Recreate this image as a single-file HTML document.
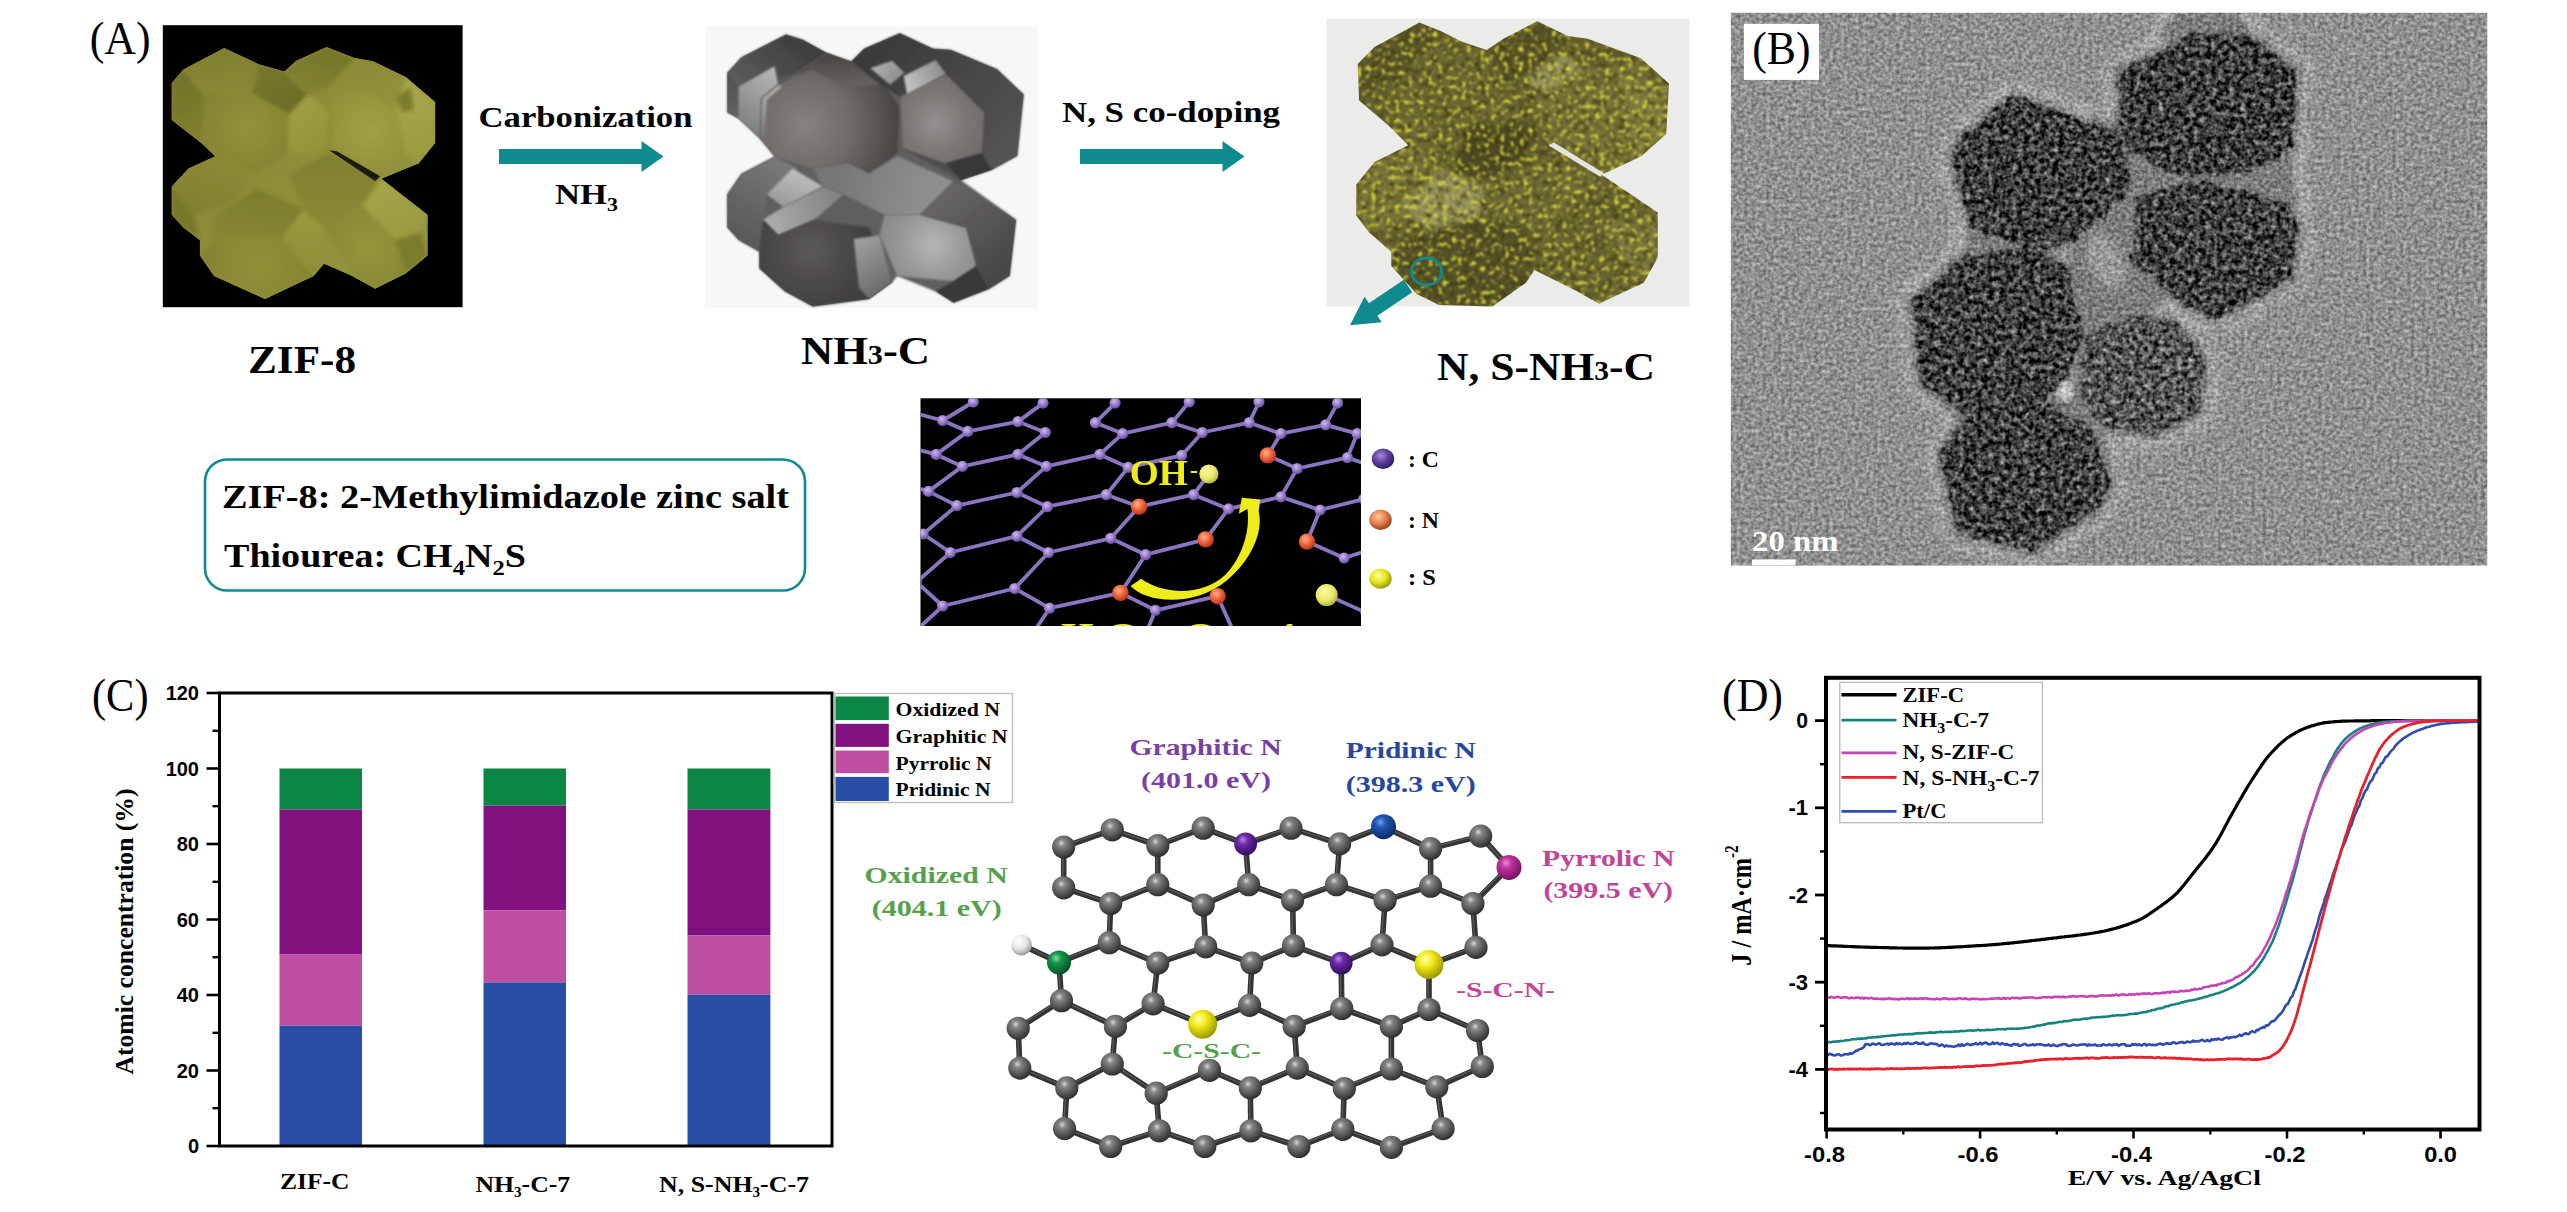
<!DOCTYPE html>
<html lang="en">
<head>
<meta charset="utf-8">
<title>Figure: N, S co-doped ZIF-8 derived carbon</title>
<style>
html,body{margin:0;padding:0;background:#fff;}
body{width:2567px;height:1212px;overflow:hidden;font-family:"Liberation Serif",serif;}
svg{display:block;}
.fs{font-family:"Liberation Serif",serif;}
.fn{font-family:"Liberation Sans",sans-serif;}
</style>
</head>
<body>
<svg width="2567" height="1212" viewBox="0 0 2567 1212">
<rect width="2567" height="1212" fill="#fff"/>
<!-- part_defs -->
<defs>
<!-- sphere gradients -->
<radialGradient id="gGray" cx="0.4" cy="0.33" r="0.72"><stop offset="0" stop-color="#d6d6d6"/><stop offset="0.22" stop-color="#858585"/><stop offset="0.6" stop-color="#565656"/><stop offset="1" stop-color="#262626"/></radialGradient>
<radialGradient id="gPurple" cx="0.38" cy="0.32" r="0.75"><stop offset="0" stop-color="#b58be0"/><stop offset="0.3" stop-color="#6a2aa6"/><stop offset="1" stop-color="#2c0a55"/></radialGradient>
<radialGradient id="gBlue" cx="0.38" cy="0.32" r="0.75"><stop offset="0" stop-color="#6aa0ee"/><stop offset="0.3" stop-color="#1f55ad"/><stop offset="1" stop-color="#0a2560"/></radialGradient>
<radialGradient id="gMag" cx="0.38" cy="0.32" r="0.75"><stop offset="0" stop-color="#f08ad8"/><stop offset="0.3" stop-color="#c030a0"/><stop offset="1" stop-color="#6a1058"/></radialGradient>
<radialGradient id="gGreen" cx="0.38" cy="0.32" r="0.75"><stop offset="0" stop-color="#7fe0a0"/><stop offset="0.3" stop-color="#12954a"/><stop offset="1" stop-color="#064a22"/></radialGradient>
<radialGradient id="gYellow" cx="0.38" cy="0.32" r="0.75"><stop offset="0" stop-color="#ffffb0"/><stop offset="0.35" stop-color="#f2ea18"/><stop offset="1" stop-color="#8f8a00"/></radialGradient>
<radialGradient id="gWhite" cx="0.38" cy="0.32" r="0.75"><stop offset="0" stop-color="#ffffff"/><stop offset="0.5" stop-color="#e6e6e6"/><stop offset="1" stop-color="#8a8a8a"/></radialGradient>
<radialGradient id="gLav" cx="0.4" cy="0.35" r="0.7"><stop offset="0" stop-color="#cdb8f2"/><stop offset="0.5" stop-color="#9a80cc"/><stop offset="1" stop-color="#5d4694"/></radialGradient>
<radialGradient id="gOrange" cx="0.4" cy="0.35" r="0.7"><stop offset="0" stop-color="#ffb48a"/><stop offset="0.5" stop-color="#f0603a"/><stop offset="1" stop-color="#a8301a"/></radialGradient>
<radialGradient id="gPaleY" cx="0.4" cy="0.35" r="0.7"><stop offset="0" stop-color="#fbfba0"/><stop offset="0.6" stop-color="#e8e86a"/><stop offset="1" stop-color="#a8a838"/></radialGradient>
<radialGradient id="gLegC" cx="0.4" cy="0.35" r="0.7"><stop offset="0" stop-color="#a58ad8"/><stop offset="0.5" stop-color="#5c3f9a"/><stop offset="1" stop-color="#2a1858"/></radialGradient>
<radialGradient id="gLegN" cx="0.4" cy="0.35" r="0.7"><stop offset="0" stop-color="#ffc8a0"/><stop offset="0.5" stop-color="#e8804a"/><stop offset="1" stop-color="#8a3a18"/></radialGradient>
<radialGradient id="gLegS" cx="0.4" cy="0.35" r="0.7"><stop offset="0" stop-color="#ffff9a"/><stop offset="0.5" stop-color="#e6e620"/><stop offset="1" stop-color="#88880a"/></radialGradient>
<filter id="blur1" x="-5%" y="-5%" width="110%" height="110%"><feGaussianBlur stdDeviation="1"/></filter>
<filter id="blur2" x="-5%" y="-5%" width="110%" height="110%"><feGaussianBlur stdDeviation="2"/></filter>
<filter id="blur4" x="-10%" y="-10%" width="120%" height="120%"><feGaussianBlur stdDeviation="4"/></filter>
<filter id="blur8" x="-20%" y="-20%" width="140%" height="140%"><feGaussianBlur stdDeviation="8"/></filter>
<filter id="soft" x="-2%" y="-2%" width="104%" height="104%"><feGaussianBlur stdDeviation="0.6"/></filter>
</defs>
<!-- part_a -->
<g id="panelA">
<text class="fs" x="89.7" y="54" font-size="46.5" textLength="61" lengthAdjust="spacingAndGlyphs">(A)</text>
<g id="zif8">
<rect x="162.8" y="25.2" width="299.8" height="282" fill="#000"/>
<defs><clipPath id="clipZ"><polygon points="171.7,82.9 183.3,69.4 224.2,47.9 258.7,64.2 284.3,71.4 296.3,60.7 326.5,47.1 354.7,58.1 373.1,61.2 405.8,77.0 435.2,102.1 435.2,143.0 418.6,163.5 381.5,178.8 427.6,214.7 427.6,255.6 405.8,273.5 375.1,288.8 352.1,276.1 324.0,263.8 313.7,276.1 265.1,299.1 214.0,276.1 199.9,255.6 199.9,240.2 183.3,227.4 171.7,214.7 171.7,186.5 188.4,168.6 215.2,156.3 201.2,143.0 171.7,120.0"/></clipPath></defs>
<polygon points="171.7,82.9 183.3,69.4 224.2,47.9 258.7,64.2 284.3,71.4 296.3,60.7 326.5,47.1 354.7,58.1 373.1,61.2 405.8,77.0 435.2,102.1 435.2,143.0 418.6,163.5 381.5,178.8 427.6,214.7 427.6,255.6 405.8,273.5 375.1,288.8 352.1,276.1 324.0,263.8 313.7,276.1 265.1,299.1 214.0,276.1 199.9,255.6 199.9,240.2 183.3,227.4 171.7,214.7 171.7,186.5 188.4,168.6 215.2,156.3 201.2,143.0 171.7,120.0" fill="#7f7f31" filter="url(#soft)"/>
<defs><linearGradient id="zg0" gradientUnits="userSpaceOnUse" x1="175.6" y1="61.2" x2="431.4" y2="265.8"><stop offset="0.00" stop-color="#838333"/><stop offset="0.50" stop-color="#8e8e3a"/><stop offset="1.00" stop-color="#96963f"/></linearGradient><linearGradient id="zg1" gradientUnits="userSpaceOnUse" x1="173.0" y1="81.6" x2="203.7" y2="137.9"><stop offset="0.00" stop-color="#74742b"/><stop offset="1.00" stop-color="#80802f"/></linearGradient><linearGradient id="zg2" gradientUnits="userSpaceOnUse" x1="224.2" y1="48.4" x2="226.7" y2="94.4"><stop offset="0.00" stop-color="#7e7e2f"/><stop offset="1.00" stop-color="#8a8a36"/></linearGradient><linearGradient id="zg3" gradientUnits="userSpaceOnUse" x1="260.0" y1="66.3" x2="293.3" y2="112.3"><stop offset="0.00" stop-color="#77772c"/><stop offset="1.00" stop-color="#6c6c27"/></linearGradient><radialGradient id="zg4" gradientUnits="userSpaceOnUse" cx="247.2" cy="127.7" r="66.5"><stop offset="0.00" stop-color="#92923b"/><stop offset="0.50" stop-color="#888835"/><stop offset="1.00" stop-color="#7f7f30"/></radialGradient><linearGradient id="zg5" gradientUnits="userSpaceOnUse" x1="293.3" y1="112.3" x2="326.5" y2="153.3"><stop offset="0.00" stop-color="#9d9d44"/><stop offset="1.00" stop-color="#919139"/></linearGradient><linearGradient id="zg6" gradientUnits="userSpaceOnUse" x1="326.5" y1="48.4" x2="313.7" y2="91.9"><stop offset="0.00" stop-color="#75752b"/><stop offset="1.00" stop-color="#828231"/></linearGradient><linearGradient id="zg7" gradientUnits="userSpaceOnUse" x1="359.8" y1="61.2" x2="395.6" y2="107.2"><stop offset="0.00" stop-color="#8a8a36"/><stop offset="1.00" stop-color="#93933c"/></linearGradient><radialGradient id="zg8" gradientUnits="userSpaceOnUse" cx="370.0" cy="130.2" r="58.8"><stop offset="0.00" stop-color="#a0a046"/><stop offset="0.50" stop-color="#96963e"/><stop offset="1.00" stop-color="#8c8c38"/></radialGradient><linearGradient id="zg9" gradientUnits="userSpaceOnUse" x1="405.8" y1="81.6" x2="426.3" y2="158.4"><stop offset="0.00" stop-color="#a8a84b"/><stop offset="1.00" stop-color="#9a9a41"/></linearGradient><linearGradient id="zg11" gradientUnits="userSpaceOnUse" x1="214.0" y1="158.4" x2="193.5" y2="214.7"><stop offset="0.00" stop-color="#8a8a36"/><stop offset="1.00" stop-color="#808030"/></linearGradient><linearGradient id="zg13" gradientUnits="userSpaceOnUse" x1="257.4" y1="189.1" x2="247.2" y2="240.2"><stop offset="0.00" stop-color="#7c7c2e"/><stop offset="1.00" stop-color="#868633"/></linearGradient><radialGradient id="zg14" gradientUnits="userSpaceOnUse" cx="257.4" cy="265.8" r="58.8"><stop offset="0.00" stop-color="#909039"/><stop offset="0.50" stop-color="#8a8a36"/><stop offset="1.00" stop-color="#828231"/></radialGradient><linearGradient id="zg15" gradientUnits="userSpaceOnUse" x1="303.5" y1="212.1" x2="316.3" y2="273.5"><stop offset="0.00" stop-color="#98983f"/><stop offset="1.00" stop-color="#8e8e39"/></linearGradient><linearGradient id="zg16" gradientUnits="userSpaceOnUse" x1="329.1" y1="155.8" x2="329.1" y2="227.4"><stop offset="0.00" stop-color="#808030"/><stop offset="1.00" stop-color="#8a8a36"/></linearGradient><linearGradient id="zg17" gradientUnits="userSpaceOnUse" x1="380.2" y1="181.4" x2="405.8" y2="237.7"><stop offset="0.00" stop-color="#a5a549"/><stop offset="1.00" stop-color="#9a9a41"/></linearGradient><radialGradient id="zg18" gradientUnits="userSpaceOnUse" cx="367.4" cy="247.9" r="48.6"><stop offset="0.00" stop-color="#96963e"/><stop offset="0.50" stop-color="#8e8e39"/><stop offset="1.00" stop-color="#868634"/></radialGradient></defs>
<g clip-path="url(#clipZ)">
<polygon points="171.7,82.9 183.3,69.4 224.2,47.9 258.7,64.2 284.3,71.4 296.3,60.7 326.5,47.1 354.7,58.1 373.1,61.2 405.8,77.0 435.2,102.1 435.2,143.0 418.6,163.5 381.5,178.8 427.6,214.7 427.6,255.6 405.8,273.5 375.1,288.8 352.1,276.1 324.0,263.8 313.7,276.1 265.1,299.1 214.0,276.1 199.9,255.6 199.9,240.2 183.3,227.4 171.7,214.7 171.7,186.5 188.4,168.6 215.2,156.3 201.2,143.0 171.7,120.0" fill="url(#zg0)"/>
<polygon points="171.7,82.9 183.3,69.4 205.0,94.4 203.7,143.0 171.7,120.0" fill="url(#zg1)" filter="url(#blur2)"/>
<polygon points="183.3,69.4 224.2,47.9 258.7,64.2 252.3,94.4 205.0,94.4" fill="url(#zg2)" filter="url(#blur2)"/>
<polygon points="252.3,94.4 258.7,64.2 284.3,71.4 308.6,94.4 289.4,114.9" fill="url(#zg3)" filter="url(#blur2)"/>
<polygon points="205.0,94.4 252.3,94.4 289.4,114.9 288.1,153.3 257.4,173.7 215.2,156.3 201.2,143.0" fill="url(#zg4)" filter="url(#blur2)"/>
<polygon points="289.4,114.9 308.6,94.4 329.1,112.3 326.5,153.3 288.1,153.3" fill="url(#zg5)" filter="url(#blur2)"/>
<polygon points="284.3,71.4 296.3,60.7 326.5,47.1 354.7,58.1 329.1,86.7 308.6,94.4" fill="url(#zg6)" filter="url(#blur2)"/>
<polygon points="354.7,58.1 373.1,61.2 405.8,77.0 395.6,109.8 359.8,86.7" fill="url(#zg7)" filter="url(#blur2)"/>
<polygon points="329.1,86.7 359.8,86.7 395.6,109.8 405.8,153.3 380.2,173.7 334.2,149.4 329.1,112.3" fill="url(#zg8)" filter="url(#blur2)"/>
<polygon points="395.6,109.8 405.8,77.0 435.2,102.1 435.2,143.0 418.6,163.5 405.8,153.3" fill="url(#zg9)" filter="url(#blur2)"/>
<polygon points="395.6,97.0 410.9,86.7 413.5,109.8 402.0,112.3" fill="#7d7d2f" filter="url(#blur2)"/>
<polygon points="171.7,186.5 188.4,168.6 215.2,156.3 257.4,173.7 226.7,204.4 193.5,214.7" fill="url(#zg11)" filter="url(#blur2)"/>
<polygon points="171.7,186.5 193.5,214.7 199.9,240.2 183.3,227.4 171.7,214.7" fill="#78782c" filter="url(#blur2)"/>
<polygon points="215.2,214.7 257.4,189.1 303.5,209.5 283.0,237.7 214.0,240.2" fill="url(#zg13)" filter="url(#blur2)"/>
<polygon points="214.0,240.2 283.0,237.7 313.7,276.1 265.1,299.1 214.0,276.1 199.9,255.6" fill="url(#zg14)" filter="url(#blur2)"/>
<polygon points="283.0,237.7 303.5,209.5 326.5,230.0 324.0,263.8 313.7,276.1" fill="url(#zg15)" filter="url(#blur2)"/>
<polygon points="329.1,153.3 381.5,178.8 362.3,207.0 326.5,230.0 303.5,209.5 288.1,173.7" fill="url(#zg16)" filter="url(#blur2)"/>
<polygon points="381.5,178.8 427.6,214.7 421.2,232.6 395.6,240.2 362.3,207.0" fill="url(#zg17)" filter="url(#blur2)"/>
<polygon points="362.3,207.0 395.6,240.2 405.8,273.5 375.1,288.8 352.1,276.1 326.5,230.0" fill="url(#zg18)" filter="url(#blur2)"/>
<polygon points="395.6,240.2 421.2,232.6 427.6,255.6 405.8,273.5" fill="#7b7b2e" filter="url(#blur2)"/>
<polygon points="329.1,150.2 336.7,151.2 380.2,176.3 375.1,180.9" fill="#1c1c08" filter="url(#soft)"/>
</g></g>
<g id="nh3c">
<rect x="705" y="26.6" width="333" height="281.6" fill="#f7f7f7"/>
<defs><clipPath id="clipG"><polygon points="727.1,72.7 741.2,57.3 786.0,34.3 802.6,39.4 825.6,52.2 851.2,61.2 864.0,48.4 899.8,33.0 933.1,48.4 951.0,49.7 997.1,68.9 1023.9,94.4 1017.5,155.9 991.9,169.9 961.2,180.2 1016.3,219.8 1009.9,276.1 989.4,288.9 953.6,303.0 935.6,291.5 897.3,276.1 892.1,282.5 869.1,299.2 812.8,306.8 784.7,291.5 759.1,268.4 759.1,251.8 738.6,240.3 727.1,227.5 727.1,194.2 741.2,173.8 774.4,156.4 759.1,137.9 738.6,118.8 727.1,112.4"/></clipPath></defs>
<polygon points="727.1,72.7 741.2,57.3 786.0,34.3 802.6,39.4 825.6,52.2 851.2,61.2 864.0,48.4 899.8,33.0 933.1,48.4 951.0,49.7 997.1,68.9 1023.9,94.4 1017.5,155.9 991.9,169.9 961.2,180.2 1016.3,219.8 1009.9,276.1 989.4,288.9 953.6,303.0 935.6,291.5 897.3,276.1 892.1,282.5 869.1,299.2 812.8,306.8 784.7,291.5 759.1,268.4 759.1,251.8 738.6,240.3 727.1,227.5 727.1,194.2 741.2,173.8 774.4,156.4 759.1,137.9 738.6,118.8 727.1,112.4" fill="#5e5e5e" filter="url(#blur1)"/>
<defs><linearGradient id="gg0" gradientUnits="userSpaceOnUse" x1="786.0" y1="34.3" x2="741.2" y2="86.8"><stop offset="0.00" stop-color="#3f3f3f"/><stop offset="1.00" stop-color="#5c5c5c"/></linearGradient><linearGradient id="gg1" gradientUnits="userSpaceOnUse" x1="728.4" y1="74.0" x2="738.6" y2="120.0"><stop offset="0.00" stop-color="#4f4f4f"/><stop offset="1.00" stop-color="#646464"/></linearGradient><linearGradient id="gg2" gradientUnits="userSpaceOnUse" x1="774.4" y1="68.9" x2="741.2" y2="125.1"><stop offset="0.00" stop-color="#b6b6b6"/><stop offset="1.00" stop-color="#808080"/></linearGradient><linearGradient id="gg3" gradientUnits="userSpaceOnUse" x1="828.2" y1="53.5" x2="830.7" y2="86.8"><stop offset="0.00" stop-color="#474341"/><stop offset="1.00" stop-color="#68635f"/></linearGradient><radialGradient id="gg4" gradientUnits="userSpaceOnUse" cx="805.1" cy="125.1" r="92.1"><stop offset="0.00" stop-color="#88827f"/><stop offset="0.50" stop-color="#706b68"/><stop offset="1.00" stop-color="#4a4644"/></radialGradient><linearGradient id="gg5" gradientUnits="userSpaceOnUse" x1="764.2" y1="99.6" x2="766.8" y2="137.9"><stop offset="0.00" stop-color="#a8a6a4"/><stop offset="1.00" stop-color="#77736f"/></linearGradient><linearGradient id="gg6" gradientUnits="userSpaceOnUse" x1="899.8" y1="33.0" x2="1009.9" y2="143.1"><stop offset="0.00" stop-color="#3b3b3b"/><stop offset="1.00" stop-color="#545252"/></linearGradient><linearGradient id="gg7" gradientUnits="userSpaceOnUse" x1="874.2" y1="66.3" x2="899.8" y2="81.6"><stop offset="0.00" stop-color="#b0b0b0"/><stop offset="1.00" stop-color="#8c8c8c"/></linearGradient><linearGradient id="gg8" gradientUnits="userSpaceOnUse" x1="907.5" y1="89.3" x2="943.3" y2="66.3"><stop offset="0.00" stop-color="#c4c4c4"/><stop offset="1.00" stop-color="#8c8c8c"/></linearGradient><radialGradient id="gg9" gradientUnits="userSpaceOnUse" cx="935.6" cy="122.6" r="61.4"><stop offset="0.00" stop-color="#959090"/><stop offset="0.50" stop-color="#7c7774"/><stop offset="1.00" stop-color="#6c6764"/></radialGradient><linearGradient id="gg11" gradientUnits="userSpaceOnUse" x1="774.4" y1="158.4" x2="728.4" y2="227.5"><stop offset="0.00" stop-color="#787878"/><stop offset="1.00" stop-color="#5a5a5a"/></linearGradient><linearGradient id="gg12" gradientUnits="userSpaceOnUse" x1="792.4" y1="171.2" x2="779.6" y2="207.0"><stop offset="0.00" stop-color="#bcbcbc"/><stop offset="1.00" stop-color="#989898"/></linearGradient><linearGradient id="gg13" gradientUnits="userSpaceOnUse" x1="766.8" y1="227.5" x2="833.3" y2="194.2"><stop offset="0.00" stop-color="#adadad"/><stop offset="1.00" stop-color="#858585"/></linearGradient><linearGradient id="gg14" gradientUnits="userSpaceOnUse" x1="833.3" y1="176.3" x2="920.3" y2="204.5"><stop offset="0.00" stop-color="#767676"/><stop offset="1.00" stop-color="#8e8e8e"/></linearGradient><radialGradient id="gg15" gradientUnits="userSpaceOnUse" cx="810.3" cy="250.5" r="81.9"><stop offset="0.00" stop-color="#5c5958"/><stop offset="0.50" stop-color="#4a4746"/><stop offset="1.00" stop-color="#3a3837"/></radialGradient><linearGradient id="gg16" gradientUnits="userSpaceOnUse" x1="856.3" y1="240.3" x2="887.0" y2="286.4"><stop offset="0.00" stop-color="#a0a0a0"/><stop offset="1.00" stop-color="#6c6c6c"/></linearGradient><radialGradient id="gg17" gradientUnits="userSpaceOnUse" cx="933.1" cy="245.4" r="58.9"><stop offset="0.00" stop-color="#b6b6b6"/><stop offset="0.50" stop-color="#9a9a9a"/><stop offset="1.00" stop-color="#868686"/></radialGradient><linearGradient id="gg18" gradientUnits="userSpaceOnUse" x1="945.9" y1="189.1" x2="1009.9" y2="265.9"><stop offset="0.00" stop-color="#686564"/><stop offset="1.00" stop-color="#484645"/></linearGradient></defs>
<g clip-path="url(#clipG)">
<polygon points="727.1,72.7 741.2,57.3 786.0,34.3 802.6,39.4 828.2,52.2 778.3,84.2 738.6,86.8" fill="url(#gg0)" filter="url(#blur1)"/>
<polygon points="727.1,72.7 738.6,86.8 738.6,120.0 727.1,112.4" fill="url(#gg1)" filter="url(#blur1)"/>
<polygon points="738.6,86.8 774.4,66.3 778.3,84.2 761.6,98.3 760.4,137.9 738.6,120.0" fill="url(#gg2)" filter="url(#blur1)"/>
<polygon points="778.3,84.2 828.2,52.2 851.2,61.2 884.5,84.2 843.5,86.8 812.8,70.1 779.6,77.8" fill="url(#gg3)" filter="url(#blur1)"/>
<polygon points="761.6,98.3 778.3,84.2 812.8,70.1 843.5,86.8 884.5,84.2 899.8,107.2 897.3,153.3 869.1,173.8 848.6,163.5 812.8,168.6 774.4,156.4 759.1,137.9" fill="url(#gg4)" filter="url(#blur1)"/>
<polygon points="762.4,98.3 778.3,84.7 782.1,86.8 766.8,100.1 764.7,137.9 760.6,136.9" fill="url(#gg5)" filter="url(#blur1)"/>
<polygon points="851.2,61.2 864.0,48.4 899.8,33.0 933.1,48.4 951.0,49.7 997.1,68.9 1023.9,94.4 1017.5,155.9 991.9,169.9 961.2,180.2 902.4,148.2 899.8,97.0 879.4,84.2" fill="url(#gg6)" filter="url(#blur1)"/>
<polygon points="870.4,68.3 892.1,60.7 904.4,72.7 890.1,84.7" fill="url(#gg7)" filter="url(#blur1)"/>
<polygon points="903.7,76.0 935.6,59.9 945.9,74.0 907.5,96.5" fill="url(#gg8)" filter="url(#blur1)"/>
<polygon points="899.8,97.0 945.9,74.0 984.3,112.4 981.7,153.3 945.9,163.5 902.4,148.2" fill="url(#gg9)" filter="url(#blur1)"/>
<polygon points="945.9,163.5 981.7,153.3 991.9,169.9 961.2,180.2" fill="#373737" filter="url(#blur1)"/>
<polygon points="727.1,194.2 741.2,173.8 774.4,156.4 797.5,168.6 766.8,194.2 762.9,219.8 759.1,251.8 738.6,240.3 727.1,227.5" fill="url(#gg11)" filter="url(#blur1)"/>
<polygon points="766.8,194.2 792.4,168.6 823.1,186.6 783.4,207.0" fill="url(#gg12)" filter="url(#blur1)"/>
<polygon points="762.9,219.8 783.4,207.0 823.1,186.6 843.5,194.2 814.1,219.8 778.3,235.2" fill="url(#gg13)" filter="url(#blur1)"/>
<polygon points="812.8,168.6 848.6,163.5 869.1,173.8 897.3,155.9 953.6,181.4 920.3,214.7 884.5,214.7 843.5,194.2 823.1,186.6" fill="url(#gg14)" filter="url(#blur1)"/>
<polygon points="759.1,251.8 762.9,219.8 778.3,235.2 814.1,219.8 869.1,227.5 892.1,282.5 869.1,299.2 812.8,306.8 784.7,291.5 759.1,268.4" fill="url(#gg15)" filter="url(#blur1)"/>
<polygon points="853.8,239.0 879.4,235.2 892.1,282.5 869.1,299.2 858.9,287.6" fill="url(#gg16)" filter="url(#blur1)"/>
<polygon points="884.5,214.7 920.3,214.7 966.4,227.5 976.6,265.9 953.6,281.2 897.3,276.1 879.4,235.2" fill="url(#gg17)" filter="url(#blur1)"/>
<polygon points="953.6,181.4 1016.3,219.8 1009.9,276.1 989.4,288.9 976.6,265.9 966.4,227.5 920.3,214.7" fill="url(#gg18)" filter="url(#blur1)"/>
<polygon points="953.6,281.2 976.6,265.9 989.4,288.9 953.6,303.0 935.6,291.5" fill="#393939" filter="url(#blur1)"/>
</g></g>
<g id="nsc">
<rect x="1326.8" y="18.5" width="362.4" height="288" fill="#ebecea"/>
<defs><clipPath id="clipY"><polygon points="1357.7,63.9 1374.5,47.1 1419.4,22.4 1441.8,31.6 1461.5,41.5 1486.7,49.9 1503.5,38.7 1537.2,21.3 1568.1,35.9 1587.7,38.7 1641.0,58.3 1669.0,83.5 1666.2,134.0 1641.0,156.5 1601.7,174.7 1657.8,212.6 1657.8,257.5 1643.8,282.7 1598.9,303.7 1576.5,291.1 1534.4,270.1 1526.0,282.7 1492.3,306.5 1439.0,305.1 1416.6,293.9 1391.3,265.9 1391.3,251.8 1368.9,232.2 1356.3,215.4 1356.3,184.5 1374.5,162.1 1408.2,145.3 1388.5,125.6 1359.1,100.4"/></clipPath>
<filter id="speck" x="0" y="0" width="100%" height="100%" color-interpolation-filters="sRGB">
<feTurbulence type="fractalNoise" baseFrequency="0.21" numOctaves="2" seed="11" result="n"/>
<feColorMatrix in="n" type="matrix" values="0 0 0 0 0.83  0 0 0 0 0.83  0 0 0 0 0.24  6.5 0 0 0 -3.65" result="y0"/>
<feGaussianBlur in="y0" stdDeviation="0.8" result="y"/>
<feTurbulence type="fractalNoise" baseFrequency="0.16" numOctaves="2" seed="4" result="n2"/>
<feColorMatrix in="n2" type="matrix" values="0 0 0 0 0.22  0 0 0 0 0.21  0 0 0 0 0.07  0 2.2 0 0 -0.95" result="d0"/>
<feGaussianBlur in="d0" stdDeviation="0.8" result="d"/>
<feGaussianBlur in="SourceGraphic" stdDeviation="2.5" result="sg"/>
<feMerge><feMergeNode in="sg"/><feMergeNode in="d"/><feMergeNode in="y"/></feMerge>
</filter></defs>
<g clip-path="url(#clipY)">
<g filter="url(#speck)">
<rect x="1340" y="10" width="350" height="310" fill="#686331"/>
<polygon points="1357.7,63.9 1374.5,47.1 1419.4,22.4 1441.8,31.6 1402.6,75.1 1359.1,100.4" fill="#5a562a"/>
<polygon points="1402.6,75.1 1441.8,31.6 1486.7,49.9 1540.0,122.8 1506.4,173.3 1455.9,178.9 1408.2,145.3 1388.5,125.6" fill="#6d6934"/>
<polygon points="1467.1,125.6 1540.0,122.8 1523.2,162.1 1489.5,178.9 1455.9,173.3" fill="#4e4a24"/>
<polygon points="1486.7,49.9 1503.5,38.7 1537.2,21.3 1568.1,35.9 1534.4,75.1 1506.4,83.5" fill="#59552a"/>
<polygon points="1523.2,77.9 1562.5,52.7 1584.9,69.5 1548.4,97.6" fill="#9a975c"/>
<polygon points="1534.4,97.6 1584.9,69.5 1641.0,58.3 1669.0,83.5 1666.2,134.0 1641.0,156.5 1601.7,174.7 1548.4,145.3" fill="#78733a"/>
<polygon points="1618.6,77.9 1669.0,83.5 1666.2,134.0 1641.0,156.5 1624.2,122.8" fill="#858040"/>
<polygon points="1356.3,184.5 1374.5,162.1 1408.2,145.3 1455.9,178.9 1422.2,218.2 1368.9,232.2 1356.3,215.4" fill="#7a763c"/>
<polygon points="1402.6,201.4 1444.6,170.5 1489.5,187.3 1478.3,221.0 1427.8,232.2" fill="#9c9960"/>
<polygon points="1391.3,251.8 1427.8,229.4 1478.3,218.2 1528.8,229.4 1534.4,270.1 1526.0,282.7 1492.3,306.5 1439.0,305.1 1416.6,293.9 1391.3,265.9" fill="#56522a"/>
<polygon points="1483.9,184.5 1540.0,162.1 1601.7,174.7 1562.5,218.2 1528.8,229.4 1478.3,218.2" fill="#716d38"/>
<polygon points="1562.5,218.2 1601.7,174.7 1657.8,212.6 1657.8,257.5 1643.8,282.7 1598.9,303.7 1576.5,291.1 1534.4,270.1 1528.8,229.4" fill="#6a6633"/>
<polygon points="1601.7,223.8 1657.8,212.6 1657.8,257.5 1643.8,282.7 1618.6,257.5" fill="#7c7840"/>
</g></g>
<polygon points="1548.4,145.3 1554.0,142.4 1603.1,172.7 1600.3,176.7" fill="#e3e4dc" filter="url(#soft)"/>
<ellipse cx="1426.6" cy="271.5" rx="15" ry="13.5" fill="none" stroke="#0f8a8f" stroke-width="2.8"/>
</g>
<polygon points="499,149.0 641.5,149.0 641.5,141.0 663.5,156.5 641.5,172.0 641.5,164.0 499,164.0" fill="#0f8a8f"/>
<polygon points="1080,149.0 1222.5,149.0 1222.5,141.0 1244.5,156.5 1222.5,172.0 1222.5,164.0 1080,164.0" fill="#0f8a8f"/>
<g transform="translate(1408,286) rotate(146)"><polygon points="0,-7.5 42,-7.5 42,-15.5 70,0 42,15.5 42,7.5 0,7.5" fill="#0f8a8f"/></g>
<text class="fs" x="478.5" y="127" font-size="30" font-weight="bold" textLength="214" lengthAdjust="spacingAndGlyphs">Carbonization</text>
<text class="fs" x="555" y="204" font-size="30" font-weight="bold" textLength="63" lengthAdjust="spacingAndGlyphs">NH<tspan font-size="19" dy="7">3</tspan></text>
<text class="fs" x="1062" y="122" font-size="30" font-weight="bold" textLength="218" lengthAdjust="spacingAndGlyphs">N, S co-doping</text>
<text class="fs" x="248" y="373" font-size="40" font-weight="bold" textLength="108" lengthAdjust="spacingAndGlyphs">ZIF-8</text>
<text class="fs" x="801" y="364" font-size="40" font-weight="bold" textLength="129" lengthAdjust="spacingAndGlyphs">NH<tspan font-size="27">3</tspan>-C</text>
<text class="fs" x="1437" y="380" font-size="40" font-weight="bold" textLength="218" lengthAdjust="spacingAndGlyphs">N, S-NH<tspan font-size="27">3</tspan>-C</text>
<rect x="205" y="459.5" width="600" height="131" rx="22" ry="22" fill="#fff" stroke="#0f8a8f" stroke-width="2.6"/>
<text class="fs" x="222" y="508" font-size="34" font-weight="bold" textLength="567" lengthAdjust="spacingAndGlyphs">ZIF-8: 2-Methylimidazole zinc salt</text>
<text class="fs" x="224" y="567" font-size="34" font-weight="bold" textLength="302" lengthAdjust="spacingAndGlyphs">Thiourea: CH<tspan font-size="22" dy="8">4</tspan><tspan dy="-8">N</tspan><tspan font-size="22" dy="8">2</tspan><tspan dy="-8">S</tspan></text>
</g>
<!-- part_a2 -->
<g id="graphene">
<rect x="920.5" y="398.3" width="440.5" height="227.7" fill="#000"/>
<clipPath id="clipGr"><rect x="920.5" y="398.3" width="440.5" height="227.7"/></clipPath>
<g clip-path="url(#clipGr)"><g filter="url(#soft)">
<g stroke="#8a76c0" stroke-width="3.8" stroke-linecap="round">
<line x1="973.3" y1="402.0" x2="942.7" y2="420.5"/>
<line x1="1043.1" y1="403.1" x2="1018.0" y2="421.6"/>
<line x1="1115.1" y1="403.1" x2="1095.4" y2="422.7"/>
<line x1="1189.2" y1="402.0" x2="1171.8" y2="422.7"/>
<line x1="1259.0" y1="402.0" x2="1249.2" y2="422.7"/>
<line x1="1337.6" y1="403.1" x2="1325.6" y2="424.9"/>
<line x1="942.7" y1="420.5" x2="967.8" y2="431.4"/>
<line x1="967.8" y1="431.4" x2="1018.0" y2="421.6"/>
<line x1="1018.0" y1="421.6" x2="1045.3" y2="432.5"/>
<line x1="1095.4" y1="422.7" x2="1122.7" y2="433.6"/>
<line x1="1122.7" y1="433.6" x2="1171.8" y2="422.7"/>
<line x1="1171.8" y1="422.7" x2="1202.3" y2="432.5"/>
<line x1="1202.3" y1="432.5" x2="1249.2" y2="422.7"/>
<line x1="1249.2" y1="422.7" x2="1280.9" y2="433.6"/>
<line x1="1280.9" y1="433.6" x2="1325.6" y2="424.9"/>
<line x1="1325.6" y1="424.9" x2="1357.2" y2="433.6"/>
<line x1="967.8" y1="431.4" x2="936.2" y2="454.4"/>
<line x1="1045.3" y1="432.5" x2="1018.0" y2="454.4"/>
<line x1="1122.7" y1="433.6" x2="1099.8" y2="454.4"/>
<line x1="1202.3" y1="432.5" x2="1181.6" y2="455.4"/>
<line x1="1280.9" y1="433.6" x2="1267.8" y2="455.4"/>
<line x1="1357.2" y1="433.6" x2="1347.4" y2="457.6"/>
<line x1="936.2" y1="454.4" x2="962.4" y2="466.4"/>
<line x1="962.4" y1="466.4" x2="1018.0" y2="454.4"/>
<line x1="1018.0" y1="454.4" x2="1046.3" y2="466.4"/>
<line x1="1046.3" y1="466.4" x2="1099.8" y2="454.4"/>
<line x1="1099.8" y1="454.4" x2="1128.2" y2="467.4"/>
<line x1="1128.2" y1="467.4" x2="1181.6" y2="455.4"/>
<line x1="1267.8" y1="455.4" x2="1297.2" y2="468.5"/>
<line x1="1297.2" y1="468.5" x2="1347.4" y2="457.6"/>
<line x1="1347.4" y1="457.6" x2="1379.0" y2="468.5"/>
<line x1="962.4" y1="466.4" x2="928.5" y2="491.4"/>
<line x1="1046.3" y1="466.4" x2="1016.9" y2="492.5"/>
<line x1="1128.2" y1="467.4" x2="1106.3" y2="494.7"/>
<line x1="1297.2" y1="468.5" x2="1280.9" y2="496.9"/>
<line x1="1379.0" y1="468.5" x2="1363.8" y2="499.1"/>
<line x1="928.5" y1="491.4" x2="956.9" y2="505.6"/>
<line x1="956.9" y1="505.6" x2="1016.9" y2="492.5"/>
<line x1="1016.9" y1="492.5" x2="1047.4" y2="506.7"/>
<line x1="1047.4" y1="506.7" x2="1106.3" y2="494.7"/>
<line x1="1106.3" y1="494.7" x2="1139.1" y2="506.7"/>
<line x1="1139.1" y1="506.7" x2="1193.6" y2="494.7"/>
<line x1="1193.6" y1="494.7" x2="1228.5" y2="508.9"/>
<line x1="1228.5" y1="508.9" x2="1280.9" y2="496.9"/>
<line x1="1280.9" y1="496.9" x2="1320.1" y2="510.0"/>
<line x1="1320.1" y1="510.0" x2="1363.8" y2="499.1"/>
<line x1="956.9" y1="505.6" x2="923.1" y2="534.0"/>
<line x1="1047.4" y1="506.7" x2="1016.9" y2="536.2"/>
<line x1="1139.1" y1="506.7" x2="1110.7" y2="538.3"/>
<line x1="1228.5" y1="508.9" x2="1205.6" y2="539.4"/>
<line x1="1320.1" y1="510.0" x2="1307.0" y2="541.6"/>
<line x1="923.1" y1="534.0" x2="950.4" y2="552.5"/>
<line x1="950.4" y1="552.5" x2="1016.9" y2="536.2"/>
<line x1="1016.9" y1="536.2" x2="1048.5" y2="552.5"/>
<line x1="1048.5" y1="552.5" x2="1110.7" y2="538.3"/>
<line x1="1110.7" y1="538.3" x2="1145.6" y2="554.7"/>
<line x1="1145.6" y1="554.7" x2="1205.6" y2="539.4"/>
<line x1="1307.0" y1="541.6" x2="1344.1" y2="558.0"/>
<line x1="1344.1" y1="558.0" x2="1368.1" y2="550.3"/>
<line x1="950.4" y1="552.5" x2="916.5" y2="582.0"/>
<line x1="1048.5" y1="552.5" x2="1014.7" y2="588.5"/>
<line x1="1145.6" y1="554.7" x2="1120.5" y2="592.9"/>
<line x1="916.5" y1="582.0" x2="942.7" y2="606.0"/>
<line x1="942.7" y1="606.0" x2="1014.7" y2="588.5"/>
<line x1="1014.7" y1="588.5" x2="1049.6" y2="608.2"/>
<line x1="1049.6" y1="608.2" x2="1120.5" y2="592.9"/>
<line x1="1120.5" y1="592.9" x2="1155.4" y2="610.3"/>
<line x1="1155.4" y1="610.3" x2="1217.6" y2="596.2"/>
<line x1="1326.7" y1="595.1" x2="1365.9" y2="612.5"/>
<line x1="942.7" y1="606.0" x2="914.4" y2="632.1"/>
<line x1="1049.6" y1="608.2" x2="1032.2" y2="634.3"/>
<line x1="1155.4" y1="610.3" x2="1145.6" y2="634.3"/>
<line x1="1217.6" y1="596.2" x2="1231.8" y2="627.8"/>
<line x1="910.0" y1="411.8" x2="942.7" y2="420.5"/>
<line x1="910.0" y1="447.8" x2="936.2" y2="454.4"/>
<line x1="910.0" y1="486.0" x2="928.5" y2="491.4"/>
<line x1="910.0" y1="529.6" x2="923.1" y2="534.0"/>
<line x1="910.0" y1="577.6" x2="916.5" y2="582.0"/>
<line x1="1357.2" y1="433.6" x2="1368.1" y2="429.3"/>
<line x1="1379.0" y1="468.5" x2="1368.1" y2="464.2"/>
<line x1="1208.9" y1="474.0" x2="1193.6" y2="494.7"/>
</g>
<circle cx="973.3" cy="402.0" r="5.6" fill="url(#gLav)"/>
<circle cx="1043.1" cy="403.1" r="5.6" fill="url(#gLav)"/>
<circle cx="1115.1" cy="403.1" r="5.6" fill="url(#gLav)"/>
<circle cx="1189.2" cy="402.0" r="5.6" fill="url(#gLav)"/>
<circle cx="1259.0" cy="402.0" r="5.6" fill="url(#gLav)"/>
<circle cx="1337.6" cy="403.1" r="5.6" fill="url(#gLav)"/>
<circle cx="942.7" cy="420.5" r="5.6" fill="url(#gLav)"/>
<circle cx="967.8" cy="431.4" r="5.6" fill="url(#gLav)"/>
<circle cx="1018.0" cy="421.6" r="5.6" fill="url(#gLav)"/>
<circle cx="1045.3" cy="432.5" r="5.6" fill="url(#gLav)"/>
<circle cx="1095.4" cy="422.7" r="5.6" fill="url(#gLav)"/>
<circle cx="1122.7" cy="433.6" r="5.6" fill="url(#gLav)"/>
<circle cx="1171.8" cy="422.7" r="5.6" fill="url(#gLav)"/>
<circle cx="1202.3" cy="432.5" r="5.6" fill="url(#gLav)"/>
<circle cx="1249.2" cy="422.7" r="5.6" fill="url(#gLav)"/>
<circle cx="1280.9" cy="433.6" r="5.6" fill="url(#gLav)"/>
<circle cx="1325.6" cy="424.9" r="5.6" fill="url(#gLav)"/>
<circle cx="1357.2" cy="433.6" r="5.6" fill="url(#gLav)"/>
<circle cx="936.2" cy="454.4" r="5.6" fill="url(#gLav)"/>
<circle cx="962.4" cy="466.4" r="5.6" fill="url(#gLav)"/>
<circle cx="1018.0" cy="454.4" r="5.6" fill="url(#gLav)"/>
<circle cx="1046.3" cy="466.4" r="5.6" fill="url(#gLav)"/>
<circle cx="1099.8" cy="454.4" r="5.6" fill="url(#gLav)"/>
<circle cx="1128.2" cy="467.4" r="5.6" fill="url(#gLav)"/>
<circle cx="1181.6" cy="455.4" r="5.6" fill="url(#gLav)"/>
<circle cx="1267.8" cy="455.4" r="8.2" fill="url(#gOrange)"/>
<circle cx="1297.2" cy="468.5" r="5.6" fill="url(#gLav)"/>
<circle cx="1347.4" cy="457.6" r="5.6" fill="url(#gLav)"/>
<circle cx="1379.0" cy="468.5" r="5.6" fill="url(#gLav)"/>
<circle cx="928.5" cy="491.4" r="5.6" fill="url(#gLav)"/>
<circle cx="956.9" cy="505.6" r="5.6" fill="url(#gLav)"/>
<circle cx="1016.9" cy="492.5" r="5.6" fill="url(#gLav)"/>
<circle cx="1047.4" cy="506.7" r="5.6" fill="url(#gLav)"/>
<circle cx="1106.3" cy="494.7" r="5.6" fill="url(#gLav)"/>
<circle cx="1139.1" cy="506.7" r="8.2" fill="url(#gOrange)"/>
<circle cx="1193.6" cy="494.7" r="5.6" fill="url(#gLav)"/>
<circle cx="1228.5" cy="508.9" r="5.6" fill="url(#gLav)"/>
<circle cx="1280.9" cy="496.9" r="5.6" fill="url(#gLav)"/>
<circle cx="1320.1" cy="510.0" r="5.6" fill="url(#gLav)"/>
<circle cx="1363.8" cy="499.1" r="5.6" fill="url(#gLav)"/>
<circle cx="923.1" cy="534.0" r="5.6" fill="url(#gLav)"/>
<circle cx="950.4" cy="552.5" r="5.6" fill="url(#gLav)"/>
<circle cx="1016.9" cy="536.2" r="5.6" fill="url(#gLav)"/>
<circle cx="1048.5" cy="552.5" r="5.6" fill="url(#gLav)"/>
<circle cx="1110.7" cy="538.3" r="5.6" fill="url(#gLav)"/>
<circle cx="1145.6" cy="554.7" r="5.6" fill="url(#gLav)"/>
<circle cx="1205.6" cy="539.4" r="8.2" fill="url(#gOrange)"/>
<circle cx="1307.0" cy="541.6" r="8.2" fill="url(#gOrange)"/>
<circle cx="1344.1" cy="558.0" r="5.6" fill="url(#gLav)"/>
<circle cx="1368.1" cy="550.3" r="5.6" fill="url(#gLav)"/>
<circle cx="916.5" cy="582.0" r="5.6" fill="url(#gLav)"/>
<circle cx="942.7" cy="606.0" r="5.6" fill="url(#gLav)"/>
<circle cx="1014.7" cy="588.5" r="5.6" fill="url(#gLav)"/>
<circle cx="1049.6" cy="608.2" r="5.6" fill="url(#gLav)"/>
<circle cx="1120.5" cy="592.9" r="8.2" fill="url(#gOrange)"/>
<circle cx="1155.4" cy="610.3" r="5.6" fill="url(#gLav)"/>
<circle cx="1217.6" cy="596.2" r="8.2" fill="url(#gOrange)"/>
<circle cx="1326.7" cy="595.1" r="11" fill="url(#gPaleY)"/>
<circle cx="1365.9" cy="612.5" r="5.6" fill="url(#gLav)"/>
<circle cx="914.4" cy="632.1" r="5.6" fill="url(#gLav)"/>
<circle cx="1032.2" cy="634.3" r="5.6" fill="url(#gLav)"/>
<circle cx="1145.6" cy="634.3" r="5.6" fill="url(#gLav)"/>
<circle cx="1208.9" cy="474.0" r="9.6" fill="url(#gPaleY)"/>
<path d="M1130.6,586.1 C1147.0,603.8 1195.6,607.0 1227.0,580.3 C1250.5,560.7 1263.8,532.5 1258.7,511.3 L1260.2,499.6 L1241.9,497.7 L1238.8,513.7 L1247.4,509.0 C1250.5,530.9 1241.9,557.6 1225.4,574.8 C1201.9,596.8 1162.7,594.4 1141.1,578.8 Z" fill="#efec1c"/>
<text class="fs" x="1129.8" y="485" font-size="35" font-weight="bold" fill="#efec1c" textLength="58" lengthAdjust="spacingAndGlyphs">OH</text>
<text class="fs" x="1190" y="477.5" font-size="24" font-weight="bold" fill="#efec1c" textLength="8" lengthAdjust="spacingAndGlyphs">-</text>
<text class="fs" x="1061" y="646" font-size="33" font-weight="bold" fill="#efec1c" textLength="262" lengthAdjust="spacingAndGlyphs">H<tspan font-size="20" dy="6">2</tspan><tspan dy="-6">O + O</tspan><tspan font-size="20" dy="6">2</tspan><tspan dy="-6"> + 4e</tspan><tspan font-size="20" dy="-12">-</tspan></text>
</g></g>
<ellipse cx="1383" cy="458.7" rx="11.2" ry="10.2" fill="url(#gLegC)"/>
<ellipse cx="1380.5" cy="519.8" rx="11.2" ry="10.2" fill="url(#gLegN)"/>
<ellipse cx="1380.5" cy="578.6" rx="11.2" ry="10.2" fill="url(#gLegS)"/>
<text class="fs" x="1408" y="466.5" font-size="23" font-weight="bold" textLength="31" lengthAdjust="spacingAndGlyphs">: C</text>
<text class="fs" x="1408" y="527.5" font-size="23" font-weight="bold" textLength="31" lengthAdjust="spacingAndGlyphs">: N</text>
<text class="fs" x="1408" y="585" font-size="23" font-weight="bold" textLength="28" lengthAdjust="spacingAndGlyphs">: S</text>
</g>
<!-- part_b -->
<g id="panelB">
<defs><clipPath id="clipT"><rect x="1730.8" y="12.8" width="756.5" height="552.7"/></clipPath>
<filter id="temNoise" x="0" y="0" width="100%" height="100%" color-interpolation-filters="sRGB">
<feTurbulence type="fractalNoise" baseFrequency="0.27" numOctaves="2" seed="3" result="n"/>
<feColorMatrix in="n" type="matrix" values="0 1 0 0 0  0 1 0 0 0  0 1 0 0 0  0 0 0 0 1" result="g"/>
<feComposite in="SourceGraphic" in2="g" operator="arithmetic" k1="0" k2="1" k3="0.56" k4="-0.28"/>
</filter>
<filter id="rough" x="-10%" y="-10%" width="120%" height="120%" color-interpolation-filters="sRGB">
<feTurbulence type="fractalNoise" baseFrequency="0.1" numOctaves="2" seed="8" result="t"/>
<feDisplacementMap in="SourceGraphic" in2="t" scale="13" xChannelSelector="R" yChannelSelector="G" result="d"/>
<feGaussianBlur in="d" stdDeviation="1.8" result="b"/>
<feTurbulence type="fractalNoise" baseFrequency="0.17" numOctaves="2" seed="21" result="n2"/>
<feColorMatrix in="n2" type="matrix" values="0 1 0 0 0  0 1 0 0 0  0 1 0 0 0  0 0 0 0 1" result="g2"/>
<feComposite in="b" in2="g2" operator="arithmetic" k1="0" k2="1" k3="1.0" k4="-0.5" result="c"/>
<feComposite in="c" in2="b" operator="in"/>
</filter>
<filter id="shell" x="-20%" y="-20%" width="140%" height="140%">
<feTurbulence type="fractalNoise" baseFrequency="0.08" numOctaves="2" seed="5" result="t"/>
<feDisplacementMap in="SourceGraphic" in2="t" scale="16" xChannelSelector="R" yChannelSelector="G" result="d"/>
<feGaussianBlur in="d" stdDeviation="3"/>
</filter>
<filter id="halo" x="-20%" y="-20%" width="140%" height="140%">
<feTurbulence type="fractalNoise" baseFrequency="0.07" numOctaves="2" seed="5" result="t"/>
<feDisplacementMap in="SourceGraphic" in2="t" scale="18" xChannelSelector="R" yChannelSelector="G" result="d"/>
<feGaussianBlur in="d" stdDeviation="5"/>
</filter></defs>
<g clip-path="url(#clipT)"><g filter="url(#temNoise)">
<rect x="1730.8" y="12.8" width="756.5" height="552.7" fill="#909090"/>
<g filter="url(#halo)" fill="#a9a9a9" stroke="#a9a9a9" stroke-width="30" stroke-linejoin="round">
<polygon points="2120.2,67.7 2157.1,56.2 2194.1,33.1 2244.9,33.1 2295.7,70.0 2291.1,148.6 2249.5,171.7 2175.6,176.3 2120.2,143.9"/>
<polygon points="1951.6,157.8 1965.5,134.7 2013.9,95.5 2074.0,118.5 2115.6,130.1 2131.7,180.9 2120.2,199.4 2074.0,240.9 2032.4,250.2 1972.4,227.1"/>
<polygon points="2138.7,194.8 2203.3,180.9 2286.5,204.0 2298.0,227.1 2291.1,277.9 2212.6,319.5 2175.6,296.4 2131.7,261.7"/>
<polygon points="1912.3,301.0 1963.1,257.1 2032.4,246.5 2069.4,268.7 2083.2,333.3 2064.8,379.5 2037.0,405.4 1972.4,419.2 1921.6,384.1"/>
<polygon points="2085.5,335.6 2138.7,314.8 2175.6,324.1 2203.3,361.0 2198.7,411.8 2152.5,434.9 2101.7,425.7 2080.9,395.7"/>
<polygon points="1940.0,453.4 1970.1,415.5 2037.0,400.8 2087.9,425.7 2110.9,481.1 2097.1,508.8 2032.4,550.4 1958.5,531.9"/>
<polygon points="2161.8,37.7 2175.6,12.3 2235.7,12.3 2249.5,33.1"/>
<polygon points="2120.2,143.9 2175.6,176.3 2249.5,171.7 2291.1,148.6 2295.7,204.0 2203.3,180.9 2138.7,194.8 2131.7,180.9"/>
<polygon points="2074.0,240.9 2120.2,199.4 2138.7,194.8 2131.7,261.7 2175.6,296.4 2138.7,314.8 2085.5,335.6 2069.4,268.7"/>
<polygon points="1972.4,227.1 2032.4,250.2 1963.1,259.4"/>
<polygon points="1972.4,416.5 2037.0,402.6 2037.0,407.2 1972.4,421.1"/>
<polygon points="2064.8,379.5 2080.9,395.7 2101.7,425.7 2087.9,425.7 2037.0,407.2 2037.0,402.6"/>
</g>
<g filter="url(#shell)" fill="#7b7b7b" stroke="#7b7b7b" stroke-width="13" stroke-linejoin="round">
<polygon points="2120.2,67.7 2157.1,56.2 2194.1,33.1 2244.9,33.1 2295.7,70.0 2291.1,148.6 2249.5,171.7 2175.6,176.3 2120.2,143.9"/>
<polygon points="1951.6,157.8 1965.5,134.7 2013.9,95.5 2074.0,118.5 2115.6,130.1 2131.7,180.9 2120.2,199.4 2074.0,240.9 2032.4,250.2 1972.4,227.1"/>
<polygon points="2138.7,194.8 2203.3,180.9 2286.5,204.0 2298.0,227.1 2291.1,277.9 2212.6,319.5 2175.6,296.4 2131.7,261.7"/>
<polygon points="1912.3,301.0 1963.1,257.1 2032.4,246.5 2069.4,268.7 2083.2,333.3 2064.8,379.5 2037.0,405.4 1972.4,419.2 1921.6,384.1"/>
<polygon points="2085.5,335.6 2138.7,314.8 2175.6,324.1 2203.3,361.0 2198.7,411.8 2152.5,434.9 2101.7,425.7 2080.9,395.7"/>
<polygon points="1940.0,453.4 1970.1,415.5 2037.0,400.8 2087.9,425.7 2110.9,481.1 2097.1,508.8 2032.4,550.4 1958.5,531.9"/>
<polygon points="2161.8,37.7 2175.6,12.3 2235.7,12.3 2249.5,33.1" stroke-width="4"/>
<polygon points="2120.2,143.9 2175.6,176.3 2249.5,171.7 2291.1,148.6 2295.7,204.0 2203.3,180.9 2138.7,194.8 2131.7,180.9" stroke-width="4"/>
<polygon points="2074.0,240.9 2120.2,199.4 2138.7,194.8 2131.7,261.7 2175.6,296.4 2138.7,314.8 2085.5,335.6 2069.4,268.7" stroke-width="4"/>
<polygon points="1972.4,227.1 2032.4,250.2 1963.1,259.4" stroke-width="4"/>
<polygon points="1972.4,416.5 2037.0,402.6 2037.0,407.2 1972.4,421.1" stroke-width="4"/>
<polygon points="2064.8,379.5 2080.9,395.7 2101.7,425.7 2087.9,425.7 2037.0,407.2 2037.0,402.6" stroke-width="4"/>
</g>
<g filter="url(#rough)">
<polygon points="2120.2,67.7 2157.1,56.2 2194.1,33.1 2244.9,33.1 2295.7,70.0 2291.1,148.6 2249.5,171.7 2175.6,176.3 2120.2,143.9" fill="#3e3e3e"/>
<polygon points="1951.6,157.8 1965.5,134.7 2013.9,95.5 2074.0,118.5 2115.6,130.1 2131.7,180.9 2120.2,199.4 2074.0,240.9 2032.4,250.2 1972.4,227.1" fill="#3d3d3d"/>
<polygon points="2138.7,194.8 2203.3,180.9 2286.5,204.0 2298.0,227.1 2291.1,277.9 2212.6,319.5 2175.6,296.4 2131.7,261.7" fill="#404040"/>
<polygon points="1912.3,301.0 1963.1,257.1 2032.4,246.5 2069.4,268.7 2083.2,333.3 2064.8,379.5 2037.0,405.4 1972.4,419.2 1921.6,384.1" fill="#3f3f3f"/>
<polygon points="2085.5,335.6 2138.7,314.8 2175.6,324.1 2203.3,361.0 2198.7,411.8 2152.5,434.9 2101.7,425.7 2080.9,395.7" fill="#555555"/>
<polygon points="1940.0,453.4 1970.1,415.5 2037.0,400.8 2087.9,425.7 2110.9,481.1 2097.1,508.8 2032.4,550.4 1958.5,531.9" fill="#3f3f3f"/>
</g>
<ellipse cx="2065.7" cy="391.5" rx="8" ry="10" fill="#c4c4c4" filter="url(#blur2)"/>
<ellipse cx="2106.3" cy="261.7" rx="17" ry="30" fill="#999" filter="url(#blur4)" transform="rotate(-25 2106.3 261.7)"/>
</g>
<rect x="1752" y="559.5" width="43.6" height="6" fill="#fff"/>
<text class="fs" x="1752" y="551" font-size="29" font-weight="bold" fill="#fff" textLength="86.5" lengthAdjust="spacingAndGlyphs">20 nm</text>
</g>
<rect x="1743.9" y="23.9" width="75.1" height="56" fill="#fff"/>
<text class="fs" x="1752.3" y="64" font-size="45.5" textLength="58.3" lengthAdjust="spacingAndGlyphs">(B)</text>
</g>
<!-- part_c -->
<g id="panelC">
<text class="fs" x="92" y="710.5" font-size="46" textLength="56.5" lengthAdjust="spacingAndGlyphs">(C)</text>
<rect x="279.5" y="768.5" width="82.5" height="40.9" fill="#0b8745"/>
<rect x="279.5" y="809.4" width="82.5" height="145.2" fill="#80117f"/>
<rect x="279.5" y="954.6" width="82.5" height="71.1" fill="#bf4fa3"/>
<rect x="279.5" y="1025.7" width="82.5" height="120.3" fill="#2a4ea8"/>
<rect x="483.5" y="768.5" width="82.5" height="37.2" fill="#0b8745"/>
<rect x="483.5" y="805.7" width="82.5" height="104.8" fill="#80117f"/>
<rect x="483.5" y="910.5" width="82.5" height="71.9" fill="#bf4fa3"/>
<rect x="483.5" y="982.4" width="82.5" height="163.6" fill="#2a4ea8"/>
<rect x="687.5" y="768.5" width="82.9" height="40.9" fill="#0b8745"/>
<rect x="687.5" y="809.4" width="82.9" height="126.1" fill="#80117f"/>
<rect x="687.5" y="935.5" width="82.9" height="59.2" fill="#bf4fa3"/>
<rect x="687.5" y="994.7" width="82.9" height="151.3" fill="#2a4ea8"/>
<rect x="219.5" y="693" width="612.5" height="453" fill="none" stroke="#000" stroke-width="3"/>
<line x1="206.5" y1="1146.0" x2="219.5" y2="1146.0" stroke="#000" stroke-width="2.6"/>
<text class="fn" x="199.0" y="1153.2" font-size="20" font-weight="bold" text-anchor="end">0</text>
<line x1="212.5" y1="1108.2" x2="219.5" y2="1108.2" stroke="#000" stroke-width="2.4"/>
<line x1="206.5" y1="1070.5" x2="219.5" y2="1070.5" stroke="#000" stroke-width="2.6"/>
<text class="fn" x="199.0" y="1077.7" font-size="20" font-weight="bold" text-anchor="end">20</text>
<line x1="212.5" y1="1032.8" x2="219.5" y2="1032.8" stroke="#000" stroke-width="2.4"/>
<line x1="206.5" y1="995.0" x2="219.5" y2="995.0" stroke="#000" stroke-width="2.6"/>
<text class="fn" x="199.0" y="1002.2" font-size="20" font-weight="bold" text-anchor="end">40</text>
<line x1="212.5" y1="957.2" x2="219.5" y2="957.2" stroke="#000" stroke-width="2.4"/>
<line x1="206.5" y1="919.5" x2="219.5" y2="919.5" stroke="#000" stroke-width="2.6"/>
<text class="fn" x="199.0" y="926.7" font-size="20" font-weight="bold" text-anchor="end">60</text>
<line x1="212.5" y1="881.8" x2="219.5" y2="881.8" stroke="#000" stroke-width="2.4"/>
<line x1="206.5" y1="844.0" x2="219.5" y2="844.0" stroke="#000" stroke-width="2.6"/>
<text class="fn" x="199.0" y="851.2" font-size="20" font-weight="bold" text-anchor="end">80</text>
<line x1="212.5" y1="806.2" x2="219.5" y2="806.2" stroke="#000" stroke-width="2.4"/>
<line x1="206.5" y1="768.5" x2="219.5" y2="768.5" stroke="#000" stroke-width="2.6"/>
<text class="fn" x="199.0" y="775.7" font-size="20" font-weight="bold" text-anchor="end">100</text>
<line x1="212.5" y1="730.8" x2="219.5" y2="730.8" stroke="#000" stroke-width="2.4"/>
<line x1="206.5" y1="693.0" x2="219.5" y2="693.0" stroke="#000" stroke-width="2.6"/>
<text class="fn" x="199.0" y="700.2" font-size="20" font-weight="bold" text-anchor="end">120</text>
<text class="fs" font-size="24.5" font-weight="bold" text-anchor="middle" textLength="286" lengthAdjust="spacingAndGlyphs" transform="translate(132.8,931.5) rotate(-90)">Atomic concentration (%)</text>
<text class="fs" x="280" y="1188.5" font-size="24" font-weight="bold" textLength="69.5" lengthAdjust="spacingAndGlyphs">ZIF-C</text>
<text class="fs" x="475.5" y="1192" font-size="24" font-weight="bold" textLength="94.7" lengthAdjust="spacingAndGlyphs">NH<tspan font-size="14" dy="5">3</tspan><tspan dy="-5">-C-7</tspan></text>
<text class="fs" x="659" y="1192" font-size="24" font-weight="bold" textLength="150" lengthAdjust="spacingAndGlyphs">N, S-NH<tspan font-size="14" dy="5">3</tspan><tspan dy="-5">-C-7</tspan></text>
<rect x="834.5" y="693.5" width="178" height="109" fill="#fff" stroke="#bdbdbd" stroke-width="1.4"/>
<rect x="835.5" y="696.5" width="53.3" height="23.6" fill="#0b8745"/>
<text class="fs" x="895.5" y="716.3" font-size="18.5" font-weight="bold" textLength="104.5" lengthAdjust="spacingAndGlyphs">Oxidized N</text>
<rect x="835.5" y="723.8" width="53.3" height="23.1" fill="#80117f"/>
<text class="fs" x="895.5" y="743.3" font-size="18.5" font-weight="bold" textLength="112" lengthAdjust="spacingAndGlyphs">Graphitic N</text>
<rect x="835.5" y="750.5" width="53.3" height="22.7" fill="#bf4fa3"/>
<text class="fs" x="895.5" y="769.8" font-size="18.5" font-weight="bold" textLength="96" lengthAdjust="spacingAndGlyphs">Pyrrolic N</text>
<rect x="835.5" y="776.9" width="53.3" height="24.1" fill="#2a4ea8"/>
<text class="fs" x="895.5" y="796.3" font-size="18.5" font-weight="bold" textLength="95" lengthAdjust="spacingAndGlyphs">Pridinic N</text>
</g>
<!-- part_struct -->
<g id="struct">
<g stroke="#343434" stroke-width="5.6" stroke-linecap="round">
<line x1="1063.7" y1="847.0" x2="1112.3" y2="829.8"/>
<line x1="1112.3" y1="829.8" x2="1157.8" y2="845.5"/>
<line x1="1157.8" y1="845.5" x2="1203.2" y2="828.2"/>
<line x1="1203.2" y1="828.2" x2="1245.6" y2="843.9"/>
<line x1="1245.6" y1="843.9" x2="1291.0" y2="828.2"/>
<line x1="1291.0" y1="828.2" x2="1339.6" y2="843.9"/>
<line x1="1339.6" y1="843.9" x2="1383.5" y2="826.7"/>
<line x1="1383.5" y1="826.7" x2="1430.6" y2="848.6"/>
<line x1="1430.6" y1="848.6" x2="1480.7" y2="836.1"/>
<line x1="1480.7" y1="836.1" x2="1509.0" y2="867.4"/>
<line x1="1063.7" y1="887.8" x2="1110.7" y2="903.5"/>
<line x1="1110.7" y1="903.5" x2="1157.8" y2="884.7"/>
<line x1="1157.8" y1="884.7" x2="1203.2" y2="905.0"/>
<line x1="1203.2" y1="905.0" x2="1248.7" y2="884.7"/>
<line x1="1248.7" y1="884.7" x2="1292.6" y2="900.3"/>
<line x1="1292.6" y1="900.3" x2="1336.5" y2="884.7"/>
<line x1="1336.5" y1="884.7" x2="1385.1" y2="900.3"/>
<line x1="1385.1" y1="900.3" x2="1430.6" y2="886.2"/>
<line x1="1430.6" y1="886.2" x2="1472.9" y2="903.5"/>
<line x1="1021.4" y1="944.9" x2="1059.0" y2="962.4"/>
<line x1="1059.0" y1="962.4" x2="1109.2" y2="942.7"/>
<line x1="1109.2" y1="942.7" x2="1157.8" y2="963.1"/>
<line x1="1157.8" y1="963.1" x2="1205.7" y2="946.8"/>
<line x1="1205.7" y1="946.8" x2="1251.8" y2="963.1"/>
<line x1="1251.8" y1="963.1" x2="1293.5" y2="945.8"/>
<line x1="1293.5" y1="945.8" x2="1341.2" y2="963.1"/>
<line x1="1341.2" y1="963.1" x2="1382.0" y2="944.9"/>
<line x1="1382.0" y1="944.9" x2="1429.0" y2="964.6"/>
<line x1="1429.0" y1="964.6" x2="1476.0" y2="947.4"/>
<line x1="1018.2" y1="1028.3" x2="1061.5" y2="1000.7"/>
<line x1="1061.5" y1="1000.7" x2="1115.4" y2="1026.4"/>
<line x1="1115.4" y1="1026.4" x2="1153.1" y2="1003.8"/>
<line x1="1153.1" y1="1003.8" x2="1202.6" y2="1024.2"/>
<line x1="1202.6" y1="1024.2" x2="1249.6" y2="1005.4"/>
<line x1="1249.6" y1="1005.4" x2="1294.2" y2="1026.4"/>
<line x1="1294.2" y1="1026.4" x2="1341.8" y2="1008.5"/>
<line x1="1341.8" y1="1008.5" x2="1391.4" y2="1026.4"/>
<line x1="1391.4" y1="1026.4" x2="1429.0" y2="1009.5"/>
<line x1="1429.0" y1="1009.5" x2="1477.6" y2="1030.5"/>
<line x1="1019.8" y1="1068.1" x2="1066.8" y2="1087.9"/>
<line x1="1066.8" y1="1087.9" x2="1112.3" y2="1064.0"/>
<line x1="1112.3" y1="1064.0" x2="1156.2" y2="1093.2"/>
<line x1="1156.2" y1="1093.2" x2="1209.5" y2="1070.3"/>
<line x1="1209.5" y1="1070.3" x2="1250.3" y2="1087.9"/>
<line x1="1250.3" y1="1087.9" x2="1297.3" y2="1068.1"/>
<line x1="1297.3" y1="1068.1" x2="1344.3" y2="1088.5"/>
<line x1="1344.3" y1="1088.5" x2="1391.4" y2="1069.0"/>
<line x1="1391.4" y1="1069.0" x2="1436.8" y2="1086.9"/>
<line x1="1436.8" y1="1086.9" x2="1482.3" y2="1066.5"/>
<line x1="1064.6" y1="1128.6" x2="1110.7" y2="1146.5"/>
<line x1="1110.7" y1="1146.5" x2="1159.3" y2="1130.8"/>
<line x1="1159.3" y1="1130.8" x2="1204.8" y2="1146.5"/>
<line x1="1204.8" y1="1146.5" x2="1250.9" y2="1130.8"/>
<line x1="1250.9" y1="1130.8" x2="1298.9" y2="1146.5"/>
<line x1="1298.9" y1="1146.5" x2="1342.8" y2="1129.3"/>
<line x1="1342.8" y1="1129.3" x2="1391.4" y2="1147.4"/>
<line x1="1391.4" y1="1147.4" x2="1443.1" y2="1128.6"/>
<line x1="1063.7" y1="847.0" x2="1063.7" y2="887.8"/>
<line x1="1157.8" y1="845.5" x2="1157.8" y2="884.7"/>
<line x1="1245.6" y1="843.9" x2="1248.7" y2="884.7"/>
<line x1="1339.6" y1="843.9" x2="1336.5" y2="884.7"/>
<line x1="1430.6" y1="848.6" x2="1430.6" y2="886.2"/>
<line x1="1509.0" y1="867.4" x2="1472.9" y2="903.5"/>
<line x1="1110.7" y1="903.5" x2="1109.2" y2="942.7"/>
<line x1="1203.2" y1="905.0" x2="1205.7" y2="946.8"/>
<line x1="1292.6" y1="900.3" x2="1293.5" y2="945.8"/>
<line x1="1385.1" y1="900.3" x2="1382.0" y2="944.9"/>
<line x1="1472.9" y1="903.5" x2="1476.0" y2="947.4"/>
<line x1="1059.0" y1="962.4" x2="1061.5" y2="1000.7"/>
<line x1="1157.8" y1="963.1" x2="1153.1" y2="1003.8"/>
<line x1="1251.8" y1="963.1" x2="1249.6" y2="1005.4"/>
<line x1="1341.2" y1="963.1" x2="1341.8" y2="1008.5"/>
<line x1="1429.0" y1="964.6" x2="1429.0" y2="1009.5"/>
<line x1="1018.2" y1="1028.3" x2="1019.8" y2="1068.1"/>
<line x1="1115.4" y1="1026.4" x2="1112.3" y2="1064.0"/>
<line x1="1294.2" y1="1026.4" x2="1297.3" y2="1068.1"/>
<line x1="1391.4" y1="1026.4" x2="1391.4" y2="1069.0"/>
<line x1="1477.6" y1="1030.5" x2="1482.3" y2="1066.5"/>
<line x1="1066.8" y1="1087.9" x2="1064.6" y2="1128.6"/>
<line x1="1156.2" y1="1093.2" x2="1159.3" y2="1130.8"/>
<line x1="1250.3" y1="1087.9" x2="1250.9" y2="1130.8"/>
<line x1="1344.3" y1="1088.5" x2="1342.8" y2="1129.3"/>
<line x1="1436.8" y1="1086.9" x2="1443.1" y2="1128.6"/>
</g>
<g stroke="#6a6a6a" stroke-width="1.3" stroke-linecap="round" opacity="0.7">
<line x1="1062.9" y1="846.1" x2="1111.5" y2="828.9"/>
<line x1="1111.5" y1="828.9" x2="1157.0" y2="844.6"/>
<line x1="1157.0" y1="844.6" x2="1202.4" y2="827.3"/>
<line x1="1202.4" y1="827.3" x2="1244.8" y2="843.0"/>
<line x1="1244.8" y1="843.0" x2="1290.2" y2="827.3"/>
<line x1="1290.2" y1="827.3" x2="1338.8" y2="843.0"/>
<line x1="1338.8" y1="843.0" x2="1382.7" y2="825.8"/>
<line x1="1382.7" y1="825.8" x2="1429.8" y2="847.7"/>
<line x1="1429.8" y1="847.7" x2="1479.9" y2="835.2"/>
<line x1="1479.9" y1="835.2" x2="1508.2" y2="866.5"/>
<line x1="1062.9" y1="886.9" x2="1109.9" y2="902.6"/>
<line x1="1109.9" y1="902.6" x2="1157.0" y2="883.8"/>
<line x1="1157.0" y1="883.8" x2="1202.4" y2="904.1"/>
<line x1="1202.4" y1="904.1" x2="1247.9" y2="883.8"/>
<line x1="1247.9" y1="883.8" x2="1291.8" y2="899.4"/>
<line x1="1291.8" y1="899.4" x2="1335.7" y2="883.8"/>
<line x1="1335.7" y1="883.8" x2="1384.3" y2="899.4"/>
<line x1="1384.3" y1="899.4" x2="1429.8" y2="885.3"/>
<line x1="1429.8" y1="885.3" x2="1472.1" y2="902.6"/>
<line x1="1020.6" y1="944.0" x2="1058.2" y2="961.5"/>
<line x1="1058.2" y1="961.5" x2="1108.4" y2="941.8"/>
<line x1="1108.4" y1="941.8" x2="1157.0" y2="962.2"/>
<line x1="1157.0" y1="962.2" x2="1204.9" y2="945.9"/>
<line x1="1204.9" y1="945.9" x2="1251.0" y2="962.2"/>
<line x1="1251.0" y1="962.2" x2="1292.7" y2="944.9"/>
<line x1="1292.7" y1="944.9" x2="1340.4" y2="962.2"/>
<line x1="1340.4" y1="962.2" x2="1381.2" y2="944.0"/>
<line x1="1381.2" y1="944.0" x2="1428.2" y2="963.7"/>
<line x1="1428.2" y1="963.7" x2="1475.2" y2="946.5"/>
<line x1="1017.4" y1="1027.4" x2="1060.7" y2="999.8"/>
<line x1="1060.7" y1="999.8" x2="1114.6" y2="1025.5"/>
<line x1="1114.6" y1="1025.5" x2="1152.3" y2="1002.9"/>
<line x1="1152.3" y1="1002.9" x2="1201.8" y2="1023.3"/>
<line x1="1201.8" y1="1023.3" x2="1248.8" y2="1004.5"/>
<line x1="1248.8" y1="1004.5" x2="1293.4" y2="1025.5"/>
<line x1="1293.4" y1="1025.5" x2="1341.0" y2="1007.6"/>
<line x1="1341.0" y1="1007.6" x2="1390.6" y2="1025.5"/>
<line x1="1390.6" y1="1025.5" x2="1428.2" y2="1008.6"/>
<line x1="1428.2" y1="1008.6" x2="1476.8" y2="1029.6"/>
<line x1="1019.0" y1="1067.2" x2="1066.0" y2="1087.0"/>
<line x1="1066.0" y1="1087.0" x2="1111.5" y2="1063.1"/>
<line x1="1111.5" y1="1063.1" x2="1155.4" y2="1092.3"/>
<line x1="1155.4" y1="1092.3" x2="1208.7" y2="1069.4"/>
<line x1="1208.7" y1="1069.4" x2="1249.5" y2="1087.0"/>
<line x1="1249.5" y1="1087.0" x2="1296.5" y2="1067.2"/>
<line x1="1296.5" y1="1067.2" x2="1343.5" y2="1087.6"/>
<line x1="1343.5" y1="1087.6" x2="1390.6" y2="1068.1"/>
<line x1="1390.6" y1="1068.1" x2="1436.0" y2="1086.0"/>
<line x1="1436.0" y1="1086.0" x2="1481.5" y2="1065.6"/>
<line x1="1063.8" y1="1127.7" x2="1109.9" y2="1145.6"/>
<line x1="1109.9" y1="1145.6" x2="1158.5" y2="1129.9"/>
<line x1="1158.5" y1="1129.9" x2="1204.0" y2="1145.6"/>
<line x1="1204.0" y1="1145.6" x2="1250.1" y2="1129.9"/>
<line x1="1250.1" y1="1129.9" x2="1298.1" y2="1145.6"/>
<line x1="1298.1" y1="1145.6" x2="1342.0" y2="1128.4"/>
<line x1="1342.0" y1="1128.4" x2="1390.6" y2="1146.5"/>
<line x1="1390.6" y1="1146.5" x2="1442.3" y2="1127.7"/>
<line x1="1062.9" y1="846.1" x2="1062.9" y2="886.9"/>
<line x1="1157.0" y1="844.6" x2="1157.0" y2="883.8"/>
<line x1="1244.8" y1="843.0" x2="1247.9" y2="883.8"/>
<line x1="1338.8" y1="843.0" x2="1335.7" y2="883.8"/>
<line x1="1429.8" y1="847.7" x2="1429.8" y2="885.3"/>
<line x1="1508.2" y1="866.5" x2="1472.1" y2="902.6"/>
<line x1="1109.9" y1="902.6" x2="1108.4" y2="941.8"/>
<line x1="1202.4" y1="904.1" x2="1204.9" y2="945.9"/>
<line x1="1291.8" y1="899.4" x2="1292.7" y2="944.9"/>
<line x1="1384.3" y1="899.4" x2="1381.2" y2="944.0"/>
<line x1="1472.1" y1="902.6" x2="1475.2" y2="946.5"/>
<line x1="1058.2" y1="961.5" x2="1060.7" y2="999.8"/>
<line x1="1157.0" y1="962.2" x2="1152.3" y2="1002.9"/>
<line x1="1251.0" y1="962.2" x2="1248.8" y2="1004.5"/>
<line x1="1340.4" y1="962.2" x2="1341.0" y2="1007.6"/>
<line x1="1428.2" y1="963.7" x2="1428.2" y2="1008.6"/>
<line x1="1017.4" y1="1027.4" x2="1019.0" y2="1067.2"/>
<line x1="1114.6" y1="1025.5" x2="1111.5" y2="1063.1"/>
<line x1="1293.4" y1="1025.5" x2="1296.5" y2="1067.2"/>
<line x1="1390.6" y1="1025.5" x2="1390.6" y2="1068.1"/>
<line x1="1476.8" y1="1029.6" x2="1481.5" y2="1065.6"/>
<line x1="1066.0" y1="1087.0" x2="1063.8" y2="1127.7"/>
<line x1="1155.4" y1="1092.3" x2="1158.5" y2="1129.9"/>
<line x1="1249.5" y1="1087.0" x2="1250.1" y2="1129.9"/>
<line x1="1343.5" y1="1087.6" x2="1342.0" y2="1128.4"/>
<line x1="1436.0" y1="1086.0" x2="1442.3" y2="1127.7"/>
</g>
<circle cx="1063.7" cy="847.0" r="11.6" fill="url(#gGray)"/>
<circle cx="1112.3" cy="829.8" r="11.6" fill="url(#gGray)"/>
<circle cx="1157.8" cy="845.5" r="11.6" fill="url(#gGray)"/>
<circle cx="1203.2" cy="828.2" r="11.6" fill="url(#gGray)"/>
<circle cx="1245.6" cy="843.9" r="11.4" fill="url(#gPurple)"/>
<circle cx="1291.0" cy="828.2" r="11.6" fill="url(#gGray)"/>
<circle cx="1339.6" cy="843.9" r="11.6" fill="url(#gGray)"/>
<circle cx="1383.5" cy="826.7" r="12.5" fill="url(#gBlue)"/>
<circle cx="1430.6" cy="848.6" r="11.6" fill="url(#gGray)"/>
<circle cx="1480.7" cy="836.1" r="11.6" fill="url(#gGray)"/>
<circle cx="1509.0" cy="867.4" r="12.5" fill="url(#gMag)"/>
<circle cx="1063.7" cy="887.8" r="11.6" fill="url(#gGray)"/>
<circle cx="1110.7" cy="903.5" r="11.6" fill="url(#gGray)"/>
<circle cx="1157.8" cy="884.7" r="11.6" fill="url(#gGray)"/>
<circle cx="1203.2" cy="905.0" r="11.6" fill="url(#gGray)"/>
<circle cx="1248.7" cy="884.7" r="11.6" fill="url(#gGray)"/>
<circle cx="1292.6" cy="900.3" r="11.6" fill="url(#gGray)"/>
<circle cx="1336.5" cy="884.7" r="11.6" fill="url(#gGray)"/>
<circle cx="1385.1" cy="900.3" r="11.6" fill="url(#gGray)"/>
<circle cx="1430.6" cy="886.2" r="11.6" fill="url(#gGray)"/>
<circle cx="1472.9" cy="903.5" r="11.6" fill="url(#gGray)"/>
<circle cx="1021.4" cy="944.9" r="10.5" fill="url(#gWhite)"/>
<circle cx="1059.0" cy="962.4" r="12" fill="url(#gGreen)"/>
<circle cx="1109.2" cy="942.7" r="11.6" fill="url(#gGray)"/>
<circle cx="1157.8" cy="963.1" r="11.6" fill="url(#gGray)"/>
<circle cx="1205.7" cy="946.8" r="11.6" fill="url(#gGray)"/>
<circle cx="1251.8" cy="963.1" r="11.6" fill="url(#gGray)"/>
<circle cx="1293.5" cy="945.8" r="11.6" fill="url(#gGray)"/>
<circle cx="1341.2" cy="963.1" r="11.4" fill="url(#gPurple)"/>
<circle cx="1382.0" cy="944.9" r="11.6" fill="url(#gGray)"/>
<circle cx="1429.0" cy="964.6" r="14.5" fill="url(#gYellow)"/>
<circle cx="1476.0" cy="947.4" r="11.6" fill="url(#gGray)"/>
<circle cx="1018.2" cy="1028.3" r="11.6" fill="url(#gGray)"/>
<circle cx="1061.5" cy="1000.7" r="11.6" fill="url(#gGray)"/>
<circle cx="1115.4" cy="1026.4" r="11.6" fill="url(#gGray)"/>
<circle cx="1153.1" cy="1003.8" r="11.6" fill="url(#gGray)"/>
<circle cx="1202.6" cy="1024.2" r="14.5" fill="url(#gYellow)"/>
<circle cx="1249.6" cy="1005.4" r="11.6" fill="url(#gGray)"/>
<circle cx="1294.2" cy="1026.4" r="11.6" fill="url(#gGray)"/>
<circle cx="1341.8" cy="1008.5" r="11.6" fill="url(#gGray)"/>
<circle cx="1391.4" cy="1026.4" r="11.6" fill="url(#gGray)"/>
<circle cx="1429.0" cy="1009.5" r="11.6" fill="url(#gGray)"/>
<circle cx="1477.6" cy="1030.5" r="11.6" fill="url(#gGray)"/>
<circle cx="1019.8" cy="1068.1" r="11.6" fill="url(#gGray)"/>
<circle cx="1066.8" cy="1087.9" r="11.6" fill="url(#gGray)"/>
<circle cx="1112.3" cy="1064.0" r="11.6" fill="url(#gGray)"/>
<circle cx="1156.2" cy="1093.2" r="11.6" fill="url(#gGray)"/>
<circle cx="1209.5" cy="1070.3" r="11.6" fill="url(#gGray)"/>
<circle cx="1250.3" cy="1087.9" r="11.6" fill="url(#gGray)"/>
<circle cx="1297.3" cy="1068.1" r="11.6" fill="url(#gGray)"/>
<circle cx="1344.3" cy="1088.5" r="11.6" fill="url(#gGray)"/>
<circle cx="1391.4" cy="1069.0" r="11.6" fill="url(#gGray)"/>
<circle cx="1436.8" cy="1086.9" r="11.6" fill="url(#gGray)"/>
<circle cx="1482.3" cy="1066.5" r="11.6" fill="url(#gGray)"/>
<circle cx="1064.6" cy="1128.6" r="11.6" fill="url(#gGray)"/>
<circle cx="1110.7" cy="1146.5" r="11.6" fill="url(#gGray)"/>
<circle cx="1159.3" cy="1130.8" r="11.6" fill="url(#gGray)"/>
<circle cx="1204.8" cy="1146.5" r="11.6" fill="url(#gGray)"/>
<circle cx="1250.9" cy="1130.8" r="11.6" fill="url(#gGray)"/>
<circle cx="1298.9" cy="1146.5" r="11.6" fill="url(#gGray)"/>
<circle cx="1342.8" cy="1129.3" r="11.6" fill="url(#gGray)"/>
<circle cx="1391.4" cy="1147.4" r="11.6" fill="url(#gGray)"/>
<circle cx="1443.1" cy="1128.6" r="11.6" fill="url(#gGray)"/>
<text class="fs" x="1129.5" y="755" font-size="23.5" font-weight="bold" fill="#7a3fa6" textLength="152.0" lengthAdjust="spacingAndGlyphs">Graphitic N</text>
<text class="fs" x="1141" y="788.3" font-size="23.5" font-weight="bold" fill="#7a3fa6" textLength="130" lengthAdjust="spacingAndGlyphs">(401.0 eV)</text>
<text class="fs" x="1345.7" y="758.3" font-size="23.5" font-weight="bold" fill="#27479e" textLength="130.1" lengthAdjust="spacingAndGlyphs">Pridinic N</text>
<text class="fs" x="1345.7" y="791.8" font-size="23.5" font-weight="bold" fill="#27479e" textLength="130.1" lengthAdjust="spacingAndGlyphs">(398.3 eV)</text>
<text class="fs" x="1542" y="865.6" font-size="23.5" font-weight="bold" fill="#c2439a" textLength="132.4" lengthAdjust="spacingAndGlyphs">Pyrrolic N</text>
<text class="fs" x="1543.4" y="897.7" font-size="23.5" font-weight="bold" fill="#c2439a" textLength="129.6" lengthAdjust="spacingAndGlyphs">(399.5 eV)</text>
<text class="fs" x="864.5" y="883" font-size="23.5" font-weight="bold" fill="#55a04a" textLength="143.2" lengthAdjust="spacingAndGlyphs">Oxidized N</text>
<text class="fs" x="871.7" y="915.5" font-size="23.5" font-weight="bold" fill="#55a04a" textLength="130.1" lengthAdjust="spacingAndGlyphs">(404.1 eV)</text>
<text class="fs" x="1162" y="1058.3" font-size="22" font-weight="bold" fill="#55a04a" textLength="99" lengthAdjust="spacingAndGlyphs">-C-S-C-</text>
<text class="fs" x="1456" y="996.6" font-size="22" font-weight="bold" fill="#c2439a" textLength="99" lengthAdjust="spacingAndGlyphs">-S-C-N-</text>
</g>
<!-- part_d -->
<g id="panelD">
<text class="fs" x="1722" y="711" font-size="47" textLength="61" lengthAdjust="spacingAndGlyphs">(D)</text>
<clipPath id="clipD"><rect x="1826" y="677.8" width="653.5" height="451.70000000000005"/></clipPath>
<g clip-path="url(#clipD)" fill="none" stroke-linejoin="round" stroke-linecap="round">
<path d="M1826.6,945.6L1828.1,945.6L1829.7,945.7L1831.2,945.8L1832.8,945.8L1834.3,945.9L1835.9,945.9L1837.5,946.0L1839.0,946.1L1840.6,946.1L1842.1,946.2L1843.7,946.3L1845.2,946.3L1846.8,946.4L1848.3,946.5L1849.9,946.5L1851.4,946.6L1853.0,946.7L1854.5,946.7L1856.1,946.8L1857.6,946.8L1859.2,946.9L1860.7,947.0L1862.3,947.0L1863.9,947.1L1865.4,947.1L1867.0,947.2L1868.5,947.2L1870.1,947.3L1871.6,947.3L1873.2,947.3L1874.7,947.4L1876.3,947.4L1877.8,947.5L1879.4,947.5L1880.9,947.5L1882.5,947.6L1884.0,947.6L1885.6,947.7L1887.1,947.7L1888.7,947.7L1890.3,947.8L1891.8,947.8L1893.4,947.8L1894.9,947.9L1896.5,947.9L1898.0,948.0L1899.6,948.0L1901.1,948.0L1902.7,948.0L1904.2,948.1L1905.8,948.1L1907.3,948.1L1908.9,948.1L1910.4,948.1L1912.0,948.2L1913.6,948.2L1915.1,948.2L1916.7,948.2L1918.2,948.2L1919.8,948.2L1921.3,948.2L1922.9,948.2L1924.4,948.2L1926.0,948.1L1927.5,948.1L1929.1,948.1L1930.6,948.0L1932.2,948.0L1933.7,948.0L1935.3,947.9L1936.8,947.9L1938.4,947.8L1940.0,947.8L1941.5,947.7L1943.1,947.6L1944.6,947.6L1946.2,947.5L1947.7,947.4L1949.3,947.3L1950.8,947.3L1952.4,947.2L1953.9,947.1L1955.5,947.0L1957.0,946.9L1958.6,946.8L1960.1,946.8L1961.7,946.7L1963.3,946.6L1964.8,946.5L1966.4,946.4L1967.9,946.3L1969.5,946.2L1971.0,946.1L1972.6,946.0L1974.1,945.9L1975.7,945.8L1977.2,945.7L1978.8,945.7L1980.3,945.6L1981.9,945.5L1983.4,945.4L1985.0,945.3L1986.5,945.2L1988.1,945.0L1989.7,944.9L1991.2,944.8L1992.8,944.7L1994.3,944.6L1995.9,944.4L1997.4,944.3L1999.0,944.2L2000.5,944.0L2002.1,943.9L2003.6,943.7L2005.2,943.6L2006.7,943.4L2008.3,943.3L2009.8,943.1L2011.4,943.0L2012.9,942.8L2014.5,942.6L2016.1,942.5L2017.6,942.3L2019.2,942.1L2020.7,942.0L2022.3,941.8L2023.8,941.6L2025.4,941.4L2026.9,941.3L2028.5,941.1L2030.0,940.9L2031.6,940.7L2033.1,940.5L2034.7,940.4L2036.2,940.2L2037.8,940.0L2039.4,939.8L2040.9,939.6L2042.5,939.4L2044.0,939.3L2045.6,939.1L2047.1,938.9L2048.7,938.7L2050.2,938.5L2051.8,938.3L2053.3,938.1L2054.9,938.0L2056.4,937.8L2058.0,937.6L2059.5,937.4L2061.1,937.2L2062.6,937.0L2064.2,936.9L2065.8,936.7L2067.3,936.5L2068.9,936.3L2070.4,936.2L2072.0,936.0L2073.5,935.8L2075.1,935.6L2076.6,935.4L2078.2,935.2L2079.7,935.0L2081.3,934.8L2082.8,934.6L2084.4,934.4L2085.9,934.2L2087.5,934.0L2089.0,933.7L2090.6,933.5L2092.2,933.2L2093.7,933.0L2095.3,932.7L2096.8,932.5L2098.4,932.2L2099.9,931.9L2101.5,931.6L2103.0,931.3L2104.6,931.0L2106.1,930.6L2107.7,930.3L2109.2,929.9L2110.8,929.5L2112.3,929.1L2113.9,928.7L2115.5,928.3L2117.0,927.9L2118.6,927.4L2120.1,926.9L2121.7,926.4L2123.2,925.9L2124.8,925.4L2126.3,924.9L2127.9,924.4L2129.4,923.8L2131.0,923.2L2132.5,922.6L2134.1,922.0L2135.6,921.4L2137.2,920.8L2138.7,920.1L2140.3,919.4L2141.9,918.6L2143.4,917.7L2145.0,916.8L2146.5,915.8L2148.1,914.8L2149.6,913.7L2151.2,912.7L2152.7,911.6L2154.3,910.5L2155.8,909.5L2157.4,908.4L2158.9,907.3L2160.5,906.2L2162.0,905.1L2163.6,904.0L2165.1,902.9L2166.7,901.7L2168.3,900.5L2169.8,899.3L2171.4,898.0L2172.9,896.7L2174.5,895.3L2176.0,893.8L2177.6,892.3L2179.1,890.7L2180.7,888.9L2182.2,887.1L2183.8,885.2L2185.3,883.3L2186.9,881.3L2188.4,879.3L2190.0,877.3L2191.6,875.3L2193.1,873.3L2194.7,871.4L2196.2,869.4L2197.8,867.5L2199.3,865.6L2200.9,863.7L2202.4,861.8L2204.0,859.8L2205.5,857.9L2207.1,855.8L2208.6,853.8L2210.2,851.7L2211.7,849.5L2213.3,847.2L2214.8,844.8L2216.4,842.3L2218.0,839.7L2219.5,837.0L2221.1,834.2L2222.6,831.3L2224.2,828.4L2225.7,825.4L2227.3,822.5L2228.8,819.6L2230.4,816.7L2231.9,813.9L2233.5,811.2L2235.0,808.5L2236.6,805.8L2238.1,803.0L2239.7,800.3L2241.3,797.6L2242.8,794.9L2244.4,792.2L2245.9,789.6L2247.5,787.0L2249.0,784.5L2250.6,782.0L2252.1,779.6L2253.7,777.2L2255.2,774.8L2256.8,772.4L2258.3,770.1L2259.9,767.8L2261.4,765.5L2263.0,763.3L2264.5,761.1L2266.1,759.1L2267.7,757.1L2269.2,755.2L2270.8,753.5L2272.3,751.8L2273.9,750.1L2275.4,748.5L2277.0,747.0L2278.5,745.4L2280.1,744.0L2281.6,742.6L2283.2,741.2L2284.7,740.0L2286.3,738.8L2287.8,737.6L2289.4,736.6L2290.9,735.6L2292.5,734.6L2294.1,733.7L2295.6,732.8L2297.2,732.0L2298.7,731.1L2300.3,730.3L2301.8,729.6L2303.4,728.9L2304.9,728.3L2306.5,727.7L2308.0,727.1L2309.6,726.6L2311.1,726.1L2312.7,725.6L2314.2,725.2L2315.8,724.7L2317.4,724.3L2318.9,723.9L2320.5,723.5L2322.0,723.2L2323.6,722.9L2325.1,722.7L2326.7,722.5L2328.2,722.3L2329.8,722.1L2331.3,722.0L2332.9,721.9L2334.4,721.7L2336.0,721.6L2337.5,721.5L2339.1,721.4L2340.6,721.3L2342.2,721.2L2343.8,721.2L2345.3,721.1L2346.9,721.1L2348.4,721.0L2350.0,721.0L2351.5,721.0L2353.1,721.0L2354.6,720.9L2356.2,720.9L2357.7,720.9L2359.3,720.9L2360.8,720.9L2362.4,720.8L2363.9,720.8L2365.5,720.8L2367.0,720.8L2368.6,720.8L2370.2,720.8L2371.7,720.7L2373.3,720.7L2374.8,720.7L2376.4,720.7L2377.9,720.7L2379.5,720.7L2381.0,720.7L2382.6,720.7L2384.1,720.6L2385.7,720.6L2387.2,720.6L2388.8,720.6L2390.3,720.6L2391.9,720.6L2393.5,720.6L2395.0,720.6L2396.6,720.6L2398.1,720.6L2399.7,720.6L2401.2,720.6L2402.8,720.6L2404.3,720.6L2405.9,720.6L2407.4,720.6L2409.0,720.6L2410.5,720.6L2412.1,720.6L2413.6,720.6L2415.2,720.6L2416.7,720.6L2418.3,720.6L2419.9,720.6L2421.4,720.6L2423.0,720.6L2424.5,720.6L2426.1,720.6L2427.6,720.6L2429.2,720.6L2430.7,720.6L2432.3,720.6L2433.8,720.6L2435.4,720.6L2436.9,720.6L2438.5,720.6L2440.0,720.6L2441.6,720.6L2443.1,720.6L2444.7,720.6L2446.3,720.6L2447.8,720.6L2449.4,720.6L2450.9,720.6L2452.5,720.6L2454.0,720.6L2455.6,720.6L2457.1,720.6L2458.7,720.6L2460.2,720.6L2461.8,720.6L2463.3,720.6L2464.9,720.6L2466.4,720.6L2468.0,720.6L2469.6,720.6L2471.1,720.6L2472.7,720.6L2474.2,720.6L2475.8,720.6L2477.3,720.6L2478.9,720.6" stroke="#000" stroke-width="3.2"/>
<path d="M1826.6,1042.5L1828.1,1042.5L1829.7,1041.9L1831.2,1042.2L1832.8,1041.7L1834.3,1041.6L1835.9,1041.7L1837.5,1041.2L1839.0,1041.4L1840.6,1040.9L1842.1,1041.0L1843.7,1040.8L1845.2,1040.4L1846.8,1040.0L1848.3,1040.3L1849.9,1040.0L1851.4,1039.6L1853.0,1039.2L1854.5,1039.3L1856.1,1039.2L1857.6,1038.6L1859.2,1039.1L1860.7,1038.4L1862.3,1038.6L1863.9,1038.5L1865.4,1038.4L1867.0,1038.1L1868.5,1037.6L1870.1,1037.8L1871.6,1037.4L1873.2,1037.2L1874.7,1037.2L1876.3,1036.9L1877.8,1037.1L1879.4,1036.9L1880.9,1036.7L1882.5,1036.2L1884.0,1036.2L1885.6,1036.2L1887.1,1035.8L1888.7,1035.8L1890.3,1035.7L1891.8,1035.2L1893.4,1035.2L1894.9,1035.4L1896.5,1035.0L1898.0,1034.9L1899.6,1034.5L1901.1,1034.5L1902.7,1034.7L1904.2,1034.1L1905.8,1034.6L1907.3,1034.3L1908.9,1033.9L1910.4,1034.3L1912.0,1033.9L1913.6,1034.1L1915.1,1033.6L1916.7,1033.4L1918.2,1033.4L1919.8,1033.1L1921.3,1033.4L1922.9,1033.1L1924.4,1033.0L1926.0,1033.0L1927.5,1033.0L1929.1,1032.6L1930.6,1032.4L1932.2,1032.7L1933.7,1032.4L1935.3,1032.8L1936.8,1032.2L1938.4,1032.2L1940.0,1031.9L1941.5,1031.9L1943.1,1032.2L1944.6,1032.0L1946.2,1031.8L1947.7,1032.1L1949.3,1031.7L1950.8,1031.9L1952.4,1031.8L1953.9,1031.8L1955.5,1031.2L1957.0,1031.6L1958.6,1031.4L1960.1,1031.2L1961.7,1030.8L1963.3,1031.3L1964.8,1031.0L1966.4,1030.8L1967.9,1030.5L1969.5,1030.5L1971.0,1030.4L1972.6,1030.7L1974.1,1030.5L1975.7,1030.5L1977.2,1030.0L1978.8,1029.9L1980.3,1030.4L1981.9,1030.3L1983.4,1030.2L1985.0,1030.1L1986.5,1029.9L1988.1,1029.7L1989.7,1029.9L1991.2,1030.0L1992.8,1029.7L1994.3,1029.7L1995.9,1029.5L1997.4,1029.1L1999.0,1029.3L2000.5,1029.3L2002.1,1029.2L2003.6,1029.1L2005.2,1029.5L2006.7,1028.8L2008.3,1028.8L2009.8,1028.7L2011.4,1028.6L2012.9,1028.8L2014.5,1028.7L2016.1,1028.9L2017.6,1028.4L2019.2,1028.7L2020.7,1028.5L2022.3,1028.3L2023.8,1028.1L2025.4,1027.8L2026.9,1027.8L2028.5,1027.6L2030.0,1027.3L2031.6,1027.0L2033.1,1026.6L2034.7,1026.6L2036.2,1025.7L2037.8,1025.6L2039.4,1025.6L2040.9,1025.2L2042.5,1024.9L2044.0,1024.6L2045.6,1024.4L2047.1,1023.7L2048.7,1023.3L2050.2,1023.4L2051.8,1023.1L2053.3,1023.1L2054.9,1022.9L2056.4,1022.5L2058.0,1022.3L2059.5,1021.7L2061.1,1022.0L2062.6,1021.9L2064.2,1021.0L2065.8,1021.1L2067.3,1021.2L2068.9,1020.7L2070.4,1020.8L2072.0,1020.3L2073.5,1019.8L2075.1,1019.7L2076.6,1019.6L2078.2,1019.7L2079.7,1019.5L2081.3,1019.4L2082.8,1018.8L2084.4,1018.8L2085.9,1018.5L2087.5,1018.6L2089.0,1018.5L2090.6,1017.9L2092.2,1017.6L2093.7,1017.5L2095.3,1017.4L2096.8,1017.2L2098.4,1017.1L2099.9,1017.3L2101.5,1016.9L2103.0,1016.9L2104.6,1016.9L2106.1,1016.8L2107.7,1016.5L2109.2,1016.4L2110.8,1015.9L2112.3,1015.6L2113.9,1015.8L2115.5,1015.4L2117.0,1015.2L2118.6,1015.1L2120.1,1015.4L2121.7,1015.3L2123.2,1015.2L2124.8,1015.0L2126.3,1014.9L2127.9,1014.4L2129.4,1014.1L2131.0,1014.0L2132.5,1014.0L2134.1,1013.7L2135.6,1013.4L2137.2,1013.7L2138.7,1013.1L2140.3,1012.7L2141.9,1012.5L2143.4,1012.2L2145.0,1012.1L2146.5,1012.0L2148.1,1011.2L2149.6,1011.2L2151.2,1010.5L2152.7,1010.0L2154.3,1010.0L2155.8,1009.5L2157.4,1008.7L2158.9,1008.5L2160.5,1008.4L2162.0,1008.0L2163.6,1007.6L2165.1,1006.6L2166.7,1006.2L2168.3,1006.3L2169.8,1005.4L2171.4,1004.8L2172.9,1004.7L2174.5,1004.5L2176.0,1003.9L2177.6,1003.8L2179.1,1003.5L2180.7,1002.5L2182.2,1002.4L2183.8,1002.1L2185.3,1001.4L2186.9,1001.4L2188.4,1000.8L2190.0,1000.4L2191.6,1000.5L2193.1,1000.1L2194.7,999.7L2196.2,999.4L2197.8,998.8L2199.3,998.6L2200.9,998.1L2202.4,997.9L2204.0,997.0L2205.5,996.9L2207.1,996.4L2208.6,995.9L2210.2,995.2L2211.7,995.1L2213.3,994.3L2214.8,994.1L2216.4,993.6L2218.0,993.0L2219.5,992.9L2221.1,992.0L2222.6,991.6L2224.2,991.1L2225.7,990.0L2227.3,989.7L2228.8,988.8L2230.4,988.0L2231.9,987.3L2233.5,986.7L2235.0,985.7L2236.6,984.9L2238.1,983.8L2239.7,983.3L2241.3,982.0L2242.8,981.1L2244.4,980.0L2245.9,978.4L2247.5,977.4L2249.0,976.0L2250.6,974.5L2252.1,972.9L2253.7,971.6L2255.2,969.7L2256.8,967.9L2258.3,965.9L2259.9,963.6L2261.4,961.5L2263.0,959.0L2264.5,956.5L2266.1,953.5L2267.7,950.9L2269.2,947.9L2270.8,944.8L2272.3,942.0L2273.9,938.2L2275.4,934.0L2277.0,929.9L2278.5,926.0L2280.1,921.4L2281.6,916.4L2283.2,911.7L2284.7,906.5L2286.3,901.6L2287.8,896.1L2289.4,890.9L2290.9,885.7L2292.5,880.8L2294.1,874.7L2295.6,868.9L2297.2,863.2L2298.7,856.6L2300.3,850.5L2301.8,845.0L2303.4,838.5L2304.9,833.2L2306.5,827.6L2308.0,821.9L2309.6,817.1L2311.1,812.6L2312.7,807.5L2314.2,802.6L2315.8,797.9L2317.4,793.3L2318.9,788.7L2320.5,784.1L2322.0,780.4L2323.6,776.0L2325.1,772.4L2326.7,769.3L2328.2,765.9L2329.8,762.6L2331.3,759.8L2332.9,757.2L2334.4,753.8L2336.0,751.3L2337.5,748.6L2339.1,746.6L2340.6,744.4L2342.2,742.3L2343.8,740.5L2345.3,738.9L2346.9,737.4L2348.4,736.1L2350.0,734.9L2351.5,733.7L2353.1,732.6L2354.6,731.6L2356.2,730.6L2357.7,729.7L2359.3,728.8L2360.8,728.1L2362.4,727.4L2363.9,726.8L2365.5,726.2L2367.0,725.7L2368.6,725.2L2370.2,724.8L2371.7,724.3L2373.3,723.9L2374.8,723.5L2376.4,723.2L2377.9,722.8L2379.5,722.5L2381.0,722.3L2382.6,722.1L2384.1,721.9L2385.7,721.8L2387.2,721.7L2388.8,721.6L2390.3,721.5L2391.9,721.4L2393.5,721.3L2395.0,721.2L2396.6,721.2L2398.1,721.1L2399.7,721.0L2401.2,721.0L2402.8,720.9L2404.3,720.8L2405.9,720.8L2407.4,720.7L2409.0,720.7L2410.5,720.7L2412.1,720.6L2413.6,720.6L2415.2,720.6L2416.7,720.6L2418.3,720.6L2419.9,720.6L2421.4,720.6L2423.0,720.6L2424.5,720.6L2426.1,720.6L2427.6,720.6L2429.2,720.6L2430.7,720.6L2432.3,720.6L2433.8,720.6L2435.4,720.6L2436.9,720.6L2438.5,720.6L2440.0,720.6L2441.6,720.6L2443.1,720.6L2444.7,720.6L2446.3,720.6L2447.8,720.6L2449.4,720.6L2450.9,720.6L2452.5,720.6L2454.0,720.6L2455.6,720.6L2457.1,720.6L2458.7,720.6L2460.2,720.6L2461.8,720.6L2463.3,720.6L2464.9,720.6L2466.4,720.6L2468.0,720.6L2469.6,720.6L2471.1,720.6L2472.7,720.6L2474.2,720.6L2475.8,720.6L2477.3,720.6L2478.9,720.6" stroke="#16837f" stroke-width="2.6"/>
<path d="M1826.6,997.5L1828.1,997.3L1829.7,997.7L1831.2,996.8L1832.8,997.5L1834.3,997.7L1835.9,997.4L1837.5,996.8L1839.0,997.0L1840.6,997.7L1842.1,997.9L1843.7,997.0L1845.2,997.4L1846.8,997.3L1848.3,998.1L1849.9,998.2L1851.4,997.5L1853.0,997.9L1854.5,998.3L1856.1,997.3L1857.6,997.7L1859.2,997.6L1860.7,998.5L1862.3,997.6L1863.9,998.6L1865.4,997.7L1867.0,998.2L1868.5,998.4L1870.1,998.2L1871.6,997.8L1873.2,998.6L1874.7,998.8L1876.3,998.4L1877.8,998.8L1879.4,999.0L1880.9,998.9L1882.5,999.1L1884.0,998.9L1885.6,998.8L1887.1,998.9L1888.7,998.3L1890.3,998.9L1891.8,998.7L1893.4,999.1L1894.9,998.9L1896.5,999.3L1898.0,999.1L1899.6,999.4L1901.1,998.5L1902.7,998.7L1904.2,999.1L1905.8,998.8L1907.3,998.2L1908.9,999.2L1910.4,998.4L1912.0,998.9L1913.6,998.8L1915.1,998.4L1916.7,998.9L1918.2,998.8L1919.8,998.5L1921.3,998.2L1922.9,999.0L1924.4,998.4L1926.0,998.5L1927.5,998.6L1929.1,998.9L1930.6,999.0L1932.2,999.3L1933.7,999.2L1935.3,999.3L1936.8,998.5L1938.4,999.1L1940.0,999.2L1941.5,999.3L1943.1,998.4L1944.6,998.3L1946.2,998.6L1947.7,999.0L1949.3,999.1L1950.8,999.0L1952.4,998.8L1953.9,999.2L1955.5,998.8L1957.0,999.1L1958.6,998.2L1960.1,998.2L1961.7,998.7L1963.3,999.1L1964.8,998.2L1966.4,999.0L1967.9,998.9L1969.5,999.4L1971.0,998.9L1972.6,998.8L1974.1,998.8L1975.7,999.1L1977.2,998.8L1978.8,999.4L1980.3,999.1L1981.9,999.3L1983.4,998.9L1985.0,999.3L1986.5,999.3L1988.1,999.0L1989.7,999.0L1991.2,998.6L1992.8,998.7L1994.3,998.4L1995.9,998.5L1997.4,998.4L1999.0,998.1L2000.5,998.7L2002.1,998.8L2003.6,997.9L2005.2,998.9L2006.7,998.2L2008.3,998.2L2009.8,998.9L2011.4,997.9L2012.9,997.8L2014.5,998.1L2016.1,997.9L2017.6,997.8L2019.2,998.6L2020.7,998.1L2022.3,998.0L2023.8,997.6L2025.4,997.6L2026.9,997.5L2028.5,997.8L2030.0,997.3L2031.6,997.5L2033.1,997.5L2034.7,998.0L2036.2,998.2L2037.8,998.0L2039.4,997.7L2040.9,998.0L2042.5,997.0L2044.0,997.3L2045.6,997.2L2047.1,997.1L2048.7,997.0L2050.2,997.2L2051.8,997.8L2053.3,996.8L2054.9,996.8L2056.4,997.0L2058.0,996.9L2059.5,996.8L2061.1,997.4L2062.6,996.6L2064.2,997.1L2065.8,997.3L2067.3,997.0L2068.9,996.4L2070.4,997.0L2072.0,996.3L2073.5,996.0L2075.1,996.5L2076.6,996.6L2078.2,996.5L2079.7,996.2L2081.3,996.0L2082.8,996.2L2084.4,996.1L2085.9,996.7L2087.5,996.6L2089.0,996.4L2090.6,995.8L2092.2,996.2L2093.7,995.9L2095.3,996.5L2096.8,996.4L2098.4,996.1L2099.9,995.5L2101.5,995.4L2103.0,995.4L2104.6,995.8L2106.1,995.5L2107.7,995.5L2109.2,995.4L2110.8,995.8L2112.3,994.8L2113.9,995.6L2115.5,994.6L2117.0,994.5L2118.6,995.6L2120.1,995.0L2121.7,994.5L2123.2,994.3L2124.8,994.8L2126.3,995.0L2127.9,995.0L2129.4,994.0L2131.0,994.9L2132.5,994.3L2134.1,994.8L2135.6,994.3L2137.2,993.7L2138.7,994.6L2140.3,993.7L2141.9,994.0L2143.4,993.4L2145.0,993.6L2146.5,994.1L2148.1,993.2L2149.6,993.6L2151.2,994.1L2152.7,994.0L2154.3,993.3L2155.8,993.3L2157.4,993.4L2158.9,993.5L2160.5,993.1L2162.0,993.1L2163.6,992.3L2165.1,993.2L2166.7,992.2L2168.3,992.0L2169.8,992.7L2171.4,991.6L2172.9,991.8L2174.5,991.4L2176.0,992.0L2177.6,991.8L2179.1,991.6L2180.7,990.7L2182.2,991.1L2183.8,991.2L2185.3,990.9L2186.9,990.9L2188.4,990.9L2190.0,990.7L2191.6,989.5L2193.1,990.0L2194.7,988.9L2196.2,989.5L2197.8,989.2L2199.3,988.6L2200.9,988.7L2202.4,988.2L2204.0,987.2L2205.5,987.0L2207.1,986.8L2208.6,986.7L2210.2,986.0L2211.7,985.6L2213.3,985.7L2214.8,985.2L2216.4,985.6L2218.0,984.4L2219.5,984.3L2221.1,983.5L2222.6,983.1L2224.2,983.0L2225.7,982.8L2227.3,981.1L2228.8,981.5L2230.4,980.4L2231.9,979.9L2233.5,979.3L2235.0,978.0L2236.6,976.9L2238.1,976.9L2239.7,975.5L2241.3,974.9L2242.8,973.5L2244.4,972.6L2245.9,971.7L2247.5,970.4L2249.0,969.0L2250.6,966.7L2252.1,965.8L2253.7,964.4L2255.2,961.7L2256.8,959.6L2258.3,958.1L2259.9,956.1L2261.4,953.5L2263.0,951.0L2264.5,947.9L2266.1,945.4L2267.7,942.2L2269.2,939.1L2270.8,935.6L2272.3,931.9L2273.9,928.5L2275.4,925.0L2277.0,920.9L2278.5,916.5L2280.1,912.2L2281.6,907.6L2283.2,903.2L2284.7,898.2L2286.3,892.5L2287.8,888.7L2289.4,883.5L2290.9,878.5L2292.5,873.1L2294.1,868.6L2295.6,863.1L2297.2,857.5L2298.7,851.8L2300.3,846.1L2301.8,840.0L2303.4,834.7L2304.9,829.4L2306.5,825.4L2308.0,820.6L2309.6,815.3L2311.1,810.7L2312.7,806.8L2314.2,802.4L2315.8,798.9L2317.4,794.3L2318.9,789.6L2320.5,785.9L2322.0,782.2L2323.6,778.5L2325.1,776.0L2326.7,773.0L2328.2,770.0L2329.8,766.7L2331.3,763.7L2332.9,760.7L2334.4,758.3L2336.0,755.9L2337.5,753.3L2339.1,751.4L2340.6,749.1L2342.2,747.7L2343.8,745.2L2345.3,743.5L2346.9,741.9L2348.4,740.5L2350.0,739.1L2351.5,737.8L2353.1,736.5L2354.6,735.3L2356.2,734.1L2357.7,733.1L2359.3,732.1L2360.8,731.1L2362.4,730.3L2363.9,729.5L2365.5,728.8L2367.0,728.2L2368.6,727.6L2370.2,727.0L2371.7,726.5L2373.3,725.9L2374.8,725.5L2376.4,725.0L2377.9,724.6L2379.5,724.2L2381.0,723.9L2382.6,723.6L2384.1,723.3L2385.7,723.1L2387.2,722.8L2388.8,722.6L2390.3,722.4L2391.9,722.2L2393.5,722.0L2395.0,721.9L2396.6,721.7L2398.1,721.5L2399.7,721.4L2401.2,721.3L2402.8,721.2L2404.3,721.1L2405.9,721.0L2407.4,720.9L2409.0,720.9L2410.5,720.8L2412.1,720.8L2413.6,720.8L2415.2,720.8L2416.7,720.8L2418.3,720.7L2419.9,720.7L2421.4,720.7L2423.0,720.7L2424.5,720.7L2426.1,720.7L2427.6,720.6L2429.2,720.6L2430.7,720.6L2432.3,720.6L2433.8,720.6L2435.4,720.6L2436.9,720.6L2438.5,720.6L2440.0,720.6L2441.6,720.6L2443.1,720.6L2444.7,720.6L2446.3,720.6L2447.8,720.6L2449.4,720.6L2450.9,720.6L2452.5,720.6L2454.0,720.6L2455.6,720.6L2457.1,720.6L2458.7,720.6L2460.2,720.6L2461.8,720.6L2463.3,720.6L2464.9,720.6L2466.4,720.6L2468.0,720.6L2469.6,720.6L2471.1,720.6L2472.7,720.6L2474.2,720.6L2475.8,720.6L2477.3,720.6L2478.9,720.6" stroke="#c545b5" stroke-width="2.6"/>
<path d="M1826.6,1054.0L1828.1,1055.1L1829.7,1053.7L1831.2,1054.3L1832.8,1055.0L1834.3,1055.4L1835.9,1055.1L1837.5,1054.3L1839.0,1054.2L1840.6,1055.4L1842.1,1055.5L1843.7,1054.5L1845.2,1054.2L1846.8,1054.3L1848.3,1054.4L1849.9,1053.2L1851.4,1054.0L1853.0,1052.9L1854.5,1052.1L1856.1,1050.5L1857.6,1050.6L1859.2,1049.3L1860.7,1049.0L1862.3,1048.3L1863.9,1047.0L1865.4,1044.4L1867.0,1044.1L1868.5,1044.5L1870.1,1045.1L1871.6,1044.1L1873.2,1043.7L1874.7,1044.3L1876.3,1044.6L1877.8,1043.8L1879.4,1043.2L1880.9,1044.7L1882.5,1045.1L1884.0,1044.5L1885.6,1044.3L1887.1,1043.7L1888.7,1044.7L1890.3,1043.5L1891.8,1043.6L1893.4,1044.0L1894.9,1044.6L1896.5,1043.0L1898.0,1044.3L1899.6,1043.2L1901.1,1044.3L1902.7,1044.3L1904.2,1043.1L1905.8,1044.0L1907.3,1042.6L1908.9,1043.5L1910.4,1044.0L1912.0,1043.9L1913.6,1043.5L1915.1,1042.9L1916.7,1042.3L1918.2,1044.0L1919.8,1043.5L1921.3,1043.9L1922.9,1042.4L1924.4,1044.2L1926.0,1044.6L1927.5,1044.7L1929.1,1044.2L1930.6,1043.3L1932.2,1043.5L1933.7,1044.0L1935.3,1043.7L1936.8,1044.0L1938.4,1045.5L1940.0,1045.9L1941.5,1044.5L1943.1,1045.1L1944.6,1046.7L1946.2,1045.4L1947.7,1046.1L1949.3,1046.1L1950.8,1046.2L1952.4,1046.5L1953.9,1046.8L1955.5,1046.1L1957.0,1045.9L1958.6,1044.5L1960.1,1046.1L1961.7,1044.2L1963.3,1045.7L1964.8,1045.2L1966.4,1044.1L1967.9,1043.9L1969.5,1044.6L1971.0,1045.2L1972.6,1044.2L1974.1,1044.3L1975.7,1043.0L1977.2,1044.4L1978.8,1043.9L1980.3,1042.7L1981.9,1044.4L1983.4,1043.5L1985.0,1042.6L1986.5,1042.7L1988.1,1044.2L1989.7,1044.2L1991.2,1044.2L1992.8,1042.5L1994.3,1044.0L1995.9,1043.0L1997.4,1042.8L1999.0,1044.1L2000.5,1044.4L2002.1,1043.1L2003.6,1043.9L2005.2,1044.8L2006.7,1044.0L2008.3,1044.9L2009.8,1045.1L2011.4,1045.8L2012.9,1044.3L2014.5,1044.0L2016.1,1044.7L2017.6,1044.1L2019.2,1046.0L2020.7,1045.5L2022.3,1045.0L2023.8,1044.0L2025.4,1044.0L2026.9,1045.2L2028.5,1045.5L2030.0,1045.1L2031.6,1045.0L2033.1,1044.1L2034.7,1045.6L2036.2,1044.4L2037.8,1044.5L2039.4,1044.3L2040.9,1044.4L2042.5,1044.8L2044.0,1045.3L2045.6,1045.4L2047.1,1045.3L2048.7,1044.4L2050.2,1045.9L2051.8,1045.6L2053.3,1044.5L2054.9,1045.5L2056.4,1045.9L2058.0,1046.0L2059.5,1044.9L2061.1,1045.3L2062.6,1044.0L2064.2,1044.2L2065.8,1044.0L2067.3,1045.5L2068.9,1045.9L2070.4,1045.8L2072.0,1045.0L2073.5,1044.5L2075.1,1045.1L2076.6,1045.5L2078.2,1045.2L2079.7,1044.7L2081.3,1044.6L2082.8,1044.5L2084.4,1044.3L2085.9,1044.6L2087.5,1045.8L2089.0,1044.3L2090.6,1045.4L2092.2,1044.8L2093.7,1045.2L2095.3,1044.5L2096.8,1045.6L2098.4,1045.5L2099.9,1045.5L2101.5,1045.7L2103.0,1044.2L2104.6,1044.8L2106.1,1045.3L2107.7,1045.2L2109.2,1044.0L2110.8,1045.0L2112.3,1045.5L2113.9,1044.3L2115.5,1044.7L2117.0,1044.0L2118.6,1045.8L2120.1,1045.0L2121.7,1044.3L2123.2,1044.3L2124.8,1044.1L2126.3,1045.9L2127.9,1045.4L2129.4,1045.8L2131.0,1045.6L2132.5,1044.0L2134.1,1044.8L2135.6,1044.1L2137.2,1045.3L2138.7,1044.2L2140.3,1045.1L2141.9,1045.4L2143.4,1044.3L2145.0,1043.9L2146.5,1045.6L2148.1,1044.5L2149.6,1044.4L2151.2,1045.1L2152.7,1044.7L2154.3,1045.1L2155.8,1044.9L2157.4,1044.7L2158.9,1043.8L2160.5,1043.6L2162.0,1044.4L2163.6,1044.7L2165.1,1043.9L2166.7,1043.0L2168.3,1043.9L2169.8,1043.5L2171.4,1043.6L2172.9,1042.3L2174.5,1042.6L2176.0,1043.5L2177.6,1043.3L2179.1,1042.6L2180.7,1042.2L2182.2,1041.9L2183.8,1042.9L2185.3,1042.7L2186.9,1041.5L2188.4,1042.0L2190.0,1042.1L2191.6,1042.0L2193.1,1040.5L2194.7,1041.8L2196.2,1041.1L2197.8,1041.5L2199.3,1041.2L2200.9,1040.2L2202.4,1039.8L2204.0,1041.0L2205.5,1041.2L2207.1,1039.9L2208.6,1040.9L2210.2,1041.2L2211.7,1039.1L2213.3,1040.0L2214.8,1039.0L2216.4,1039.7L2218.0,1038.5L2219.5,1039.2L2221.1,1039.6L2222.6,1039.7L2224.2,1038.3L2225.7,1037.9L2227.3,1037.1L2228.8,1038.5L2230.4,1037.2L2231.9,1037.4L2233.5,1036.8L2235.0,1037.3L2236.6,1036.7L2238.1,1035.8L2239.7,1034.7L2241.3,1036.0L2242.8,1034.8L2244.4,1033.8L2245.9,1033.1L2247.5,1034.3L2249.0,1034.0L2250.6,1031.9L2252.1,1031.3L2253.7,1031.9L2255.2,1032.2L2256.8,1029.8L2258.3,1030.3L2259.9,1028.5L2261.4,1028.3L2263.0,1027.1L2264.5,1027.6L2266.1,1025.4L2267.7,1025.6L2269.2,1024.2L2270.8,1022.2L2272.3,1021.1L2273.9,1021.1L2275.4,1019.6L2277.0,1017.7L2278.5,1015.7L2280.1,1014.2L2281.6,1012.8L2283.2,1010.5L2284.7,1007.3L2286.3,1004.7L2287.8,1004.1L2289.4,1000.5L2290.9,997.5L2292.5,995.9L2294.1,990.9L2295.6,988.7L2297.2,983.7L2298.7,979.7L2300.3,975.2L2301.8,971.4L2303.4,966.7L2304.9,961.8L2306.5,957.5L2308.0,952.5L2309.6,948.5L2311.1,943.8L2312.7,939.8L2314.2,933.6L2315.8,928.8L2317.4,924.2L2318.9,917.9L2320.5,912.7L2322.0,908.2L2323.6,903.7L2325.1,898.1L2326.7,894.0L2328.2,889.3L2329.8,884.1L2331.3,880.2L2332.9,875.0L2334.4,870.4L2336.0,866.9L2337.5,861.3L2339.1,858.1L2340.6,852.5L2342.2,848.2L2343.8,844.6L2345.3,841.4L2346.9,836.5L2348.4,832.7L2350.0,827.5L2351.5,825.2L2353.1,819.7L2354.6,815.5L2356.2,812.2L2357.7,808.2L2359.3,805.8L2360.8,800.6L2362.4,798.1L2363.9,793.8L2365.5,790.7L2367.0,789.3L2368.6,785.0L2370.2,781.7L2371.7,780.7L2373.3,777.3L2374.8,773.8L2376.4,772.4L2377.9,768.3L2379.5,767.1L2381.0,763.7L2382.6,762.8L2384.1,759.9L2385.7,756.9L2387.2,756.4L2388.8,754.3L2390.3,751.8L2391.9,750.2L2393.5,749.0L2395.0,746.2L2396.6,744.5L2398.1,742.9L2399.7,741.5L2401.2,740.1L2402.8,738.9L2404.3,737.8L2405.9,736.8L2407.4,735.8L2409.0,734.9L2410.5,734.0L2412.1,733.2L2413.6,732.4L2415.2,731.7L2416.7,731.0L2418.3,730.4L2419.9,729.8L2421.4,729.2L2423.0,728.7L2424.5,728.1L2426.1,727.6L2427.6,727.1L2429.2,726.7L2430.7,726.2L2432.3,725.8L2433.8,725.4L2435.4,725.0L2436.9,724.7L2438.5,724.4L2440.0,724.1L2441.6,723.9L2443.1,723.7L2444.7,723.5L2446.3,723.4L2447.8,723.2L2449.4,723.1L2450.9,723.0L2452.5,722.8L2454.0,722.7L2455.6,722.6L2457.1,722.5L2458.7,722.4L2460.2,722.4L2461.8,722.3L2463.3,722.2L2464.9,722.1L2466.4,722.1L2468.0,722.0L2469.6,722.0L2471.1,721.9L2472.7,721.9L2474.2,721.8L2475.8,721.8L2477.3,721.7L2478.9,721.6" stroke="#2f4bb0" stroke-width="2.6"/>
<path d="M1826.6,1069.6L1828.1,1069.6L1829.7,1069.1L1831.2,1069.2L1832.8,1069.1L1834.3,1069.5L1835.9,1069.1L1837.5,1069.6L1839.0,1069.2L1840.6,1069.2L1842.1,1069.3L1843.7,1069.0L1845.2,1069.2L1846.8,1069.1L1848.3,1068.9L1849.9,1069.4L1851.4,1068.8L1853.0,1069.0L1854.5,1069.2L1856.1,1068.9L1857.6,1069.3L1859.2,1068.7L1860.7,1069.0L1862.3,1069.1L1863.9,1068.8L1865.4,1069.1L1867.0,1069.2L1868.5,1068.8L1870.1,1069.3L1871.6,1068.7L1873.2,1069.1L1874.7,1068.8L1876.3,1068.6L1877.8,1068.8L1879.4,1068.8L1880.9,1069.0L1882.5,1069.2L1884.0,1069.1L1885.6,1069.0L1887.1,1068.7L1888.7,1068.8L1890.3,1068.7L1891.8,1068.4L1893.4,1068.9L1894.9,1068.9L1896.5,1068.5L1898.0,1068.9L1899.6,1068.9L1901.1,1068.7L1902.7,1068.8L1904.2,1068.6L1905.8,1068.7L1907.3,1068.4L1908.9,1068.4L1910.4,1068.6L1912.0,1068.3L1913.6,1068.3L1915.1,1068.6L1916.7,1068.0L1918.2,1068.4L1919.8,1068.4L1921.3,1068.4L1922.9,1068.0L1924.4,1067.8L1926.0,1067.8L1927.5,1068.1L1929.1,1068.1L1930.6,1068.2L1932.2,1067.8L1933.7,1067.8L1935.3,1067.9L1936.8,1067.6L1938.4,1067.7L1940.0,1067.3L1941.5,1067.4L1943.1,1067.7L1944.6,1067.2L1946.2,1067.7L1947.7,1067.3L1949.3,1067.3L1950.8,1067.4L1952.4,1067.5L1953.9,1066.9L1955.5,1067.4L1957.0,1066.9L1958.6,1066.6L1960.1,1067.1L1961.7,1067.0L1963.3,1066.6L1964.8,1066.6L1966.4,1066.5L1967.9,1066.3L1969.5,1066.7L1971.0,1066.5L1972.6,1066.4L1974.1,1066.5L1975.7,1065.9L1977.2,1065.9L1978.8,1065.8L1980.3,1066.2L1981.9,1065.6L1983.4,1065.5L1985.0,1065.6L1986.5,1065.3L1988.1,1065.4L1989.7,1065.4L1991.2,1065.4L1992.8,1065.2L1994.3,1065.2L1995.9,1064.8L1997.4,1064.4L1999.0,1064.3L2000.5,1064.0L2002.1,1064.0L2003.6,1064.1L2005.2,1063.8L2006.7,1063.7L2008.3,1063.3L2009.8,1063.4L2011.4,1063.4L2012.9,1063.0L2014.5,1062.6L2016.1,1063.0L2017.6,1062.4L2019.2,1062.8L2020.7,1062.5L2022.3,1062.3L2023.8,1061.8L2025.4,1061.5L2026.9,1061.4L2028.5,1061.5L2030.0,1061.0L2031.6,1061.2L2033.1,1061.1L2034.7,1060.4L2036.2,1060.4L2037.8,1060.2L2039.4,1060.1L2040.9,1059.7L2042.5,1059.9L2044.0,1059.5L2045.6,1059.5L2047.1,1059.3L2048.7,1059.4L2050.2,1059.1L2051.8,1059.1L2053.3,1059.2L2054.9,1059.2L2056.4,1058.9L2058.0,1059.2L2059.5,1058.6L2061.1,1059.0L2062.6,1059.1L2064.2,1059.0L2065.8,1058.4L2067.3,1058.7L2068.9,1058.8L2070.4,1058.9L2072.0,1058.8L2073.5,1058.4L2075.1,1058.4L2076.6,1058.3L2078.2,1058.2L2079.7,1058.7L2081.3,1058.3L2082.8,1058.4L2084.4,1058.1L2085.9,1058.0L2087.5,1057.9L2089.0,1058.5L2090.6,1057.9L2092.2,1057.8L2093.7,1057.8L2095.3,1058.3L2096.8,1058.2L2098.4,1058.3L2099.9,1058.3L2101.5,1057.7L2103.0,1057.6L2104.6,1057.7L2106.1,1057.5L2107.7,1057.6L2109.2,1057.8L2110.8,1057.9L2112.3,1057.9L2113.9,1057.4L2115.5,1057.7L2117.0,1057.6L2118.6,1057.5L2120.1,1057.7L2121.7,1057.5L2123.2,1057.5L2124.8,1057.1L2126.3,1057.3L2127.9,1057.4L2129.4,1056.9L2131.0,1057.2L2132.5,1056.9L2134.1,1057.1L2135.6,1057.5L2137.2,1057.3L2138.7,1057.3L2140.3,1057.0L2141.9,1057.4L2143.4,1057.1L2145.0,1057.3L2146.5,1057.5L2148.1,1057.1L2149.6,1057.7L2151.2,1057.2L2152.7,1057.7L2154.3,1057.9L2155.8,1057.8L2157.4,1057.4L2158.9,1057.3L2160.5,1058.1L2162.0,1057.8L2163.6,1057.8L2165.1,1057.6L2166.7,1058.1L2168.3,1058.0L2169.8,1058.1L2171.4,1057.8L2172.9,1058.3L2174.5,1057.8L2176.0,1058.4L2177.6,1058.5L2179.1,1058.2L2180.7,1058.5L2182.2,1058.8L2183.8,1058.5L2185.3,1059.0L2186.9,1058.6L2188.4,1058.8L2190.0,1058.8L2191.6,1059.0L2193.1,1059.3L2194.7,1059.4L2196.2,1059.4L2197.8,1059.2L2199.3,1059.8L2200.9,1059.3L2202.4,1060.0L2204.0,1059.9L2205.5,1059.9L2207.1,1059.5L2208.6,1059.8L2210.2,1059.9L2211.7,1059.5L2213.3,1060.0L2214.8,1059.7L2216.4,1059.6L2218.0,1059.4L2219.5,1059.3L2221.1,1059.3L2222.6,1059.4L2224.2,1059.4L2225.7,1059.4L2227.3,1058.8L2228.8,1058.9L2230.4,1058.8L2231.9,1059.2L2233.5,1059.0L2235.0,1058.8L2236.6,1058.9L2238.1,1059.2L2239.7,1059.0L2241.3,1058.8L2242.8,1059.3L2244.4,1059.4L2245.9,1059.3L2247.5,1059.1L2249.0,1059.0L2250.6,1059.5L2252.1,1059.6L2253.7,1059.5L2255.2,1059.5L2256.8,1059.4L2258.3,1059.5L2259.9,1059.3L2261.4,1059.2L2263.0,1058.4L2264.5,1058.3L2266.1,1058.4L2267.7,1057.4L2269.2,1057.5L2270.8,1056.6L2272.3,1055.4L2273.9,1054.6L2275.4,1053.5L2277.0,1052.6L2278.5,1051.5L2280.1,1049.7L2281.6,1048.2L2283.2,1046.0L2284.7,1043.5L2286.3,1041.1L2287.8,1038.0L2289.4,1034.7L2290.9,1031.4L2292.5,1027.6L2294.1,1023.1L2295.6,1018.4L2297.2,1013.4L2298.7,1007.5L2300.3,1001.9L2301.8,995.8L2303.4,989.7L2304.9,984.1L2306.5,978.1L2308.0,972.2L2309.6,966.8L2311.1,961.2L2312.7,955.0L2314.2,949.0L2315.8,943.0L2317.4,937.0L2318.9,930.8L2320.5,924.9L2322.0,918.9L2323.6,913.1L2325.1,907.3L2326.7,901.3L2328.2,896.1L2329.8,890.3L2331.3,884.5L2332.9,879.0L2334.4,873.6L2336.0,868.5L2337.5,863.0L2339.1,857.7L2340.6,852.3L2342.2,847.4L2343.8,842.1L2345.3,837.0L2346.9,832.7L2348.4,827.7L2350.0,822.8L2351.5,818.4L2353.1,813.7L2354.6,808.8L2356.2,805.0L2357.7,800.3L2359.3,796.3L2360.8,791.7L2362.4,787.6L2363.9,784.0L2365.5,780.6L2367.0,776.6L2368.6,773.0L2370.2,769.3L2371.7,765.8L2373.3,762.2L2374.8,758.7L2376.4,755.7L2377.9,752.7L2379.5,749.4L2381.0,747.3L2382.6,744.8L2384.1,742.7L2385.7,740.9L2387.2,739.3L2388.8,737.6L2390.3,736.1L2391.9,734.6L2393.5,733.3L2395.0,732.0L2396.6,730.8L2398.1,729.8L2399.7,728.8L2401.2,727.9L2402.8,727.2L2404.3,726.6L2405.9,726.0L2407.4,725.5L2409.0,725.0L2410.5,724.5L2412.1,724.1L2413.6,723.6L2415.2,723.3L2416.7,722.9L2418.3,722.6L2419.9,722.4L2421.4,722.1L2423.0,721.9L2424.5,721.8L2426.1,721.6L2427.6,721.4L2429.2,721.3L2430.7,721.1L2432.3,721.0L2433.8,720.8L2435.4,720.8L2436.9,720.7L2438.5,720.6L2440.0,720.6L2441.6,720.6L2443.1,720.6L2444.7,720.6L2446.3,720.6L2447.8,720.6L2449.4,720.6L2450.9,720.6L2452.5,720.6L2454.0,720.6L2455.6,720.6L2457.1,720.6L2458.7,720.6L2460.2,720.6L2461.8,720.6L2463.3,720.6L2464.9,720.6L2466.4,720.6L2468.0,720.6L2469.6,720.6L2471.1,720.6L2472.7,720.6L2474.2,720.6L2475.8,720.6L2477.3,720.6L2478.9,720.6" stroke="#e8202a" stroke-width="2.8"/>
</g>
<rect x="1826" y="677.8" width="653.5" height="451.7" fill="none" stroke="#000" stroke-width="4"/>
<line x1="1820" y1="1113.0" x2="1826" y2="1113.0" stroke="#000" stroke-width="2.4"/>
<line x1="1815" y1="1069.4" x2="1826" y2="1069.4" stroke="#000" stroke-width="2.8"/>
<text class="fn" x="1788.4" y="1077.0" font-size="21.5" font-weight="bold" textLength="19.6" lengthAdjust="spacingAndGlyphs">-4</text>
<line x1="1820" y1="1025.8" x2="1826" y2="1025.8" stroke="#000" stroke-width="2.4"/>
<line x1="1815" y1="982.2" x2="1826" y2="982.2" stroke="#000" stroke-width="2.8"/>
<text class="fn" x="1788.4" y="989.8" font-size="21.5" font-weight="bold" textLength="19.6" lengthAdjust="spacingAndGlyphs">-3</text>
<line x1="1820" y1="938.6" x2="1826" y2="938.6" stroke="#000" stroke-width="2.4"/>
<line x1="1815" y1="895.0" x2="1826" y2="895.0" stroke="#000" stroke-width="2.8"/>
<text class="fn" x="1788.4" y="902.6" font-size="21.5" font-weight="bold" textLength="19.6" lengthAdjust="spacingAndGlyphs">-2</text>
<line x1="1820" y1="851.4" x2="1826" y2="851.4" stroke="#000" stroke-width="2.4"/>
<line x1="1815" y1="807.8" x2="1826" y2="807.8" stroke="#000" stroke-width="2.8"/>
<text class="fn" x="1788.4" y="815.4" font-size="21.5" font-weight="bold" textLength="19.6" lengthAdjust="spacingAndGlyphs">-1</text>
<line x1="1820" y1="764.2" x2="1826" y2="764.2" stroke="#000" stroke-width="2.4"/>
<line x1="1815" y1="720.6" x2="1826" y2="720.6" stroke="#000" stroke-width="2.8"/>
<text class="fn" x="1796.2" y="728.2" font-size="21.5" font-weight="bold" textLength="11.8" lengthAdjust="spacingAndGlyphs">0</text>
<line x1="1826.6" y1="1129.5" x2="1826.6" y2="1138.5" stroke="#000" stroke-width="2.6"/>
<text class="fn" x="1804.1" y="1161.8" font-size="21.5" font-weight="bold" textLength="41" lengthAdjust="spacingAndGlyphs">-0.8</text>
<line x1="1903.3" y1="1129.5" x2="1903.3" y2="1134.5" stroke="#000" stroke-width="2.4"/>
<line x1="1980.1" y1="1129.5" x2="1980.1" y2="1138.5" stroke="#000" stroke-width="2.6"/>
<text class="fn" x="1957.6" y="1161.8" font-size="21.5" font-weight="bold" textLength="41" lengthAdjust="spacingAndGlyphs">-0.6</text>
<line x1="2056.8" y1="1129.5" x2="2056.8" y2="1134.5" stroke="#000" stroke-width="2.4"/>
<line x1="2133.5" y1="1129.5" x2="2133.5" y2="1138.5" stroke="#000" stroke-width="2.6"/>
<text class="fn" x="2111.0" y="1161.8" font-size="21.5" font-weight="bold" textLength="41" lengthAdjust="spacingAndGlyphs">-0.4</text>
<line x1="2210.3" y1="1129.5" x2="2210.3" y2="1134.5" stroke="#000" stroke-width="2.4"/>
<line x1="2287.0" y1="1129.5" x2="2287.0" y2="1138.5" stroke="#000" stroke-width="2.6"/>
<text class="fn" x="2264.5" y="1161.8" font-size="21.5" font-weight="bold" textLength="41" lengthAdjust="spacingAndGlyphs">-0.2</text>
<line x1="2363.8" y1="1129.5" x2="2363.8" y2="1134.5" stroke="#000" stroke-width="2.4"/>
<line x1="2440.5" y1="1129.5" x2="2440.5" y2="1138.5" stroke="#000" stroke-width="2.6"/>
<text class="fn" x="2424.2" y="1161.8" font-size="21.5" font-weight="bold" textLength="32.7" lengthAdjust="spacingAndGlyphs">0.0</text>
<text class="fs" x="2067.7" y="1185.3" font-size="21.5" font-weight="bold" textLength="193.2" lengthAdjust="spacingAndGlyphs">E/V vs. Ag/AgCl</text>
<text class="fs" font-size="30" font-weight="bold" textLength="120.5" lengthAdjust="spacingAndGlyphs" transform="translate(1750.5,965.8) rotate(-90)">J / mA·cm<tspan font-size="19" dy="-13">-2</tspan></text>
<rect x="1839.8" y="682.4" width="202.6" height="140.3" fill="#fff" stroke="#b8b8b8" stroke-width="1.3"/>
<line x1="1841.5" y1="694.8" x2="1896.5" y2="694.8" stroke="#000" stroke-width="3.4"/>
<text class="fs" x="1902.5" y="701.6" font-size="20.5" font-weight="bold" textLength="61.5" lengthAdjust="spacingAndGlyphs">ZIF-C</text>
<line x1="1841.5" y1="720.1" x2="1896.5" y2="720.1" stroke="#16837f" stroke-width="2.8"/>
<text class="fs" x="1902.5" y="726.8" font-size="20.5" font-weight="bold" textLength="86.5" lengthAdjust="spacingAndGlyphs">NH<tspan font-size="14" dy="6">3</tspan><tspan dy="-6">-C-7</tspan></text>
<line x1="1841.5" y1="752.9" x2="1896.5" y2="752.9" stroke="#c545b5" stroke-width="2.8"/>
<text class="fs" x="1902.5" y="759.2" font-size="20.5" font-weight="bold" textLength="111.8" lengthAdjust="spacingAndGlyphs">N, S-ZIF-C</text>
<line x1="1841.5" y1="777.3" x2="1896.5" y2="777.3" stroke="#e8202a" stroke-width="2.8"/>
<text class="fs" x="1902.5" y="784.6" font-size="20.5" font-weight="bold" textLength="137" lengthAdjust="spacingAndGlyphs">N, S-NH<tspan font-size="14" dy="6">3</tspan><tspan dy="-6">-C-7</tspan></text>
<line x1="1841.5" y1="811.3" x2="1896.5" y2="811.3" stroke="#2f4bb0" stroke-width="2.8"/>
<text class="fs" x="1902.5" y="817.7" font-size="20.5" font-weight="bold" textLength="44" lengthAdjust="spacingAndGlyphs">Pt/C</text>
</g>
</svg>
</body>
</html>
